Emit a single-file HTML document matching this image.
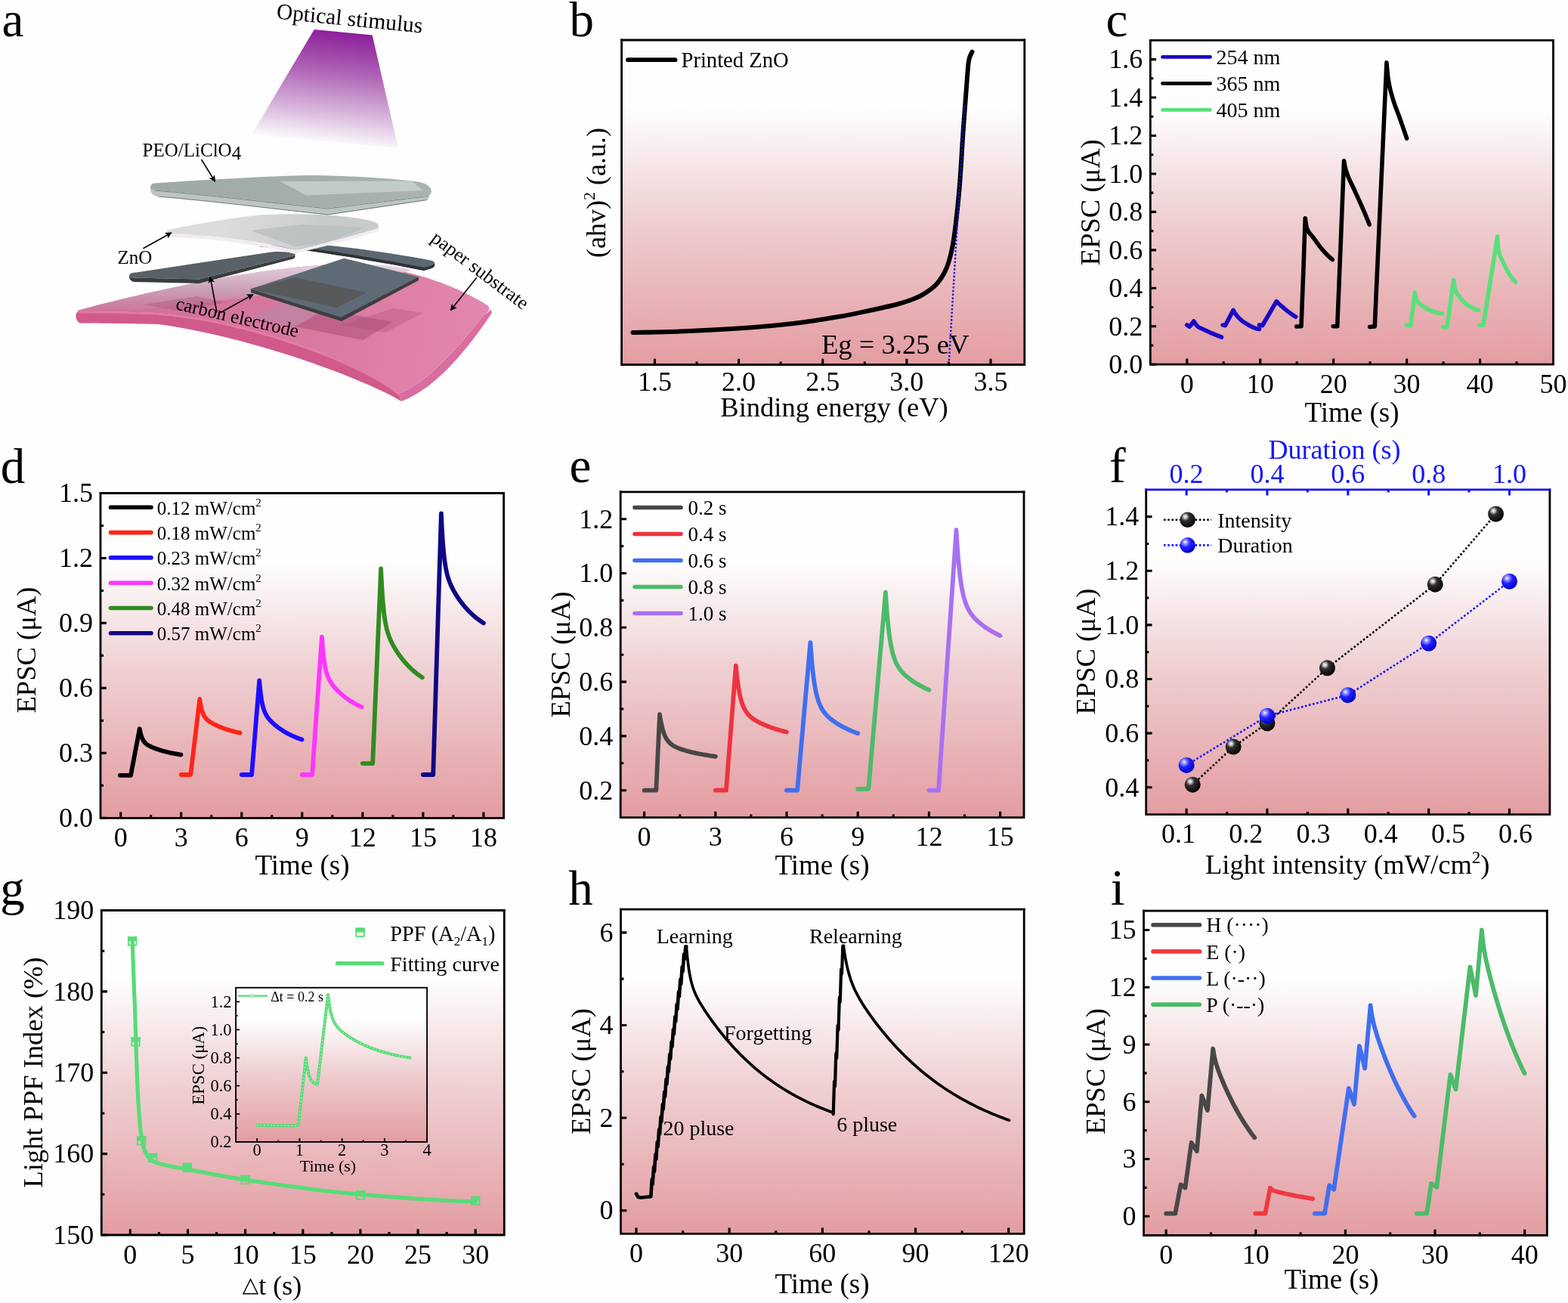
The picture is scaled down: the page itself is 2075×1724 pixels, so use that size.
<!DOCTYPE html><html><head><meta charset="utf-8"><style>html,body{margin:0;padding:0;background:#fff;}svg{display:block;}</style></head><body><svg xmlns="http://www.w3.org/2000/svg" width="2075" height="1724" viewBox="0 0 2075 1724" font-family='"Liberation Serif", "Times New Roman", serif'><defs><linearGradient id="g_b" x1="0" y1="0" x2="0" y2="1"><stop offset="0" stop-color="#fefefe"/><stop offset="0.21" stop-color="#fefefe"/><stop offset="0.55" stop-color="rgb(239,207,210)"/><stop offset="1" stop-color="rgb(227,157,161)"/></linearGradient><linearGradient id="g_c" x1="0" y1="0" x2="0" y2="1"><stop offset="0" stop-color="#fefefe"/><stop offset="0.21" stop-color="#fefefe"/><stop offset="0.55" stop-color="rgb(239,207,210)"/><stop offset="1" stop-color="rgb(227,157,161)"/></linearGradient><linearGradient id="g_d" x1="0" y1="0" x2="0" y2="1"><stop offset="0" stop-color="#fefefe"/><stop offset="0.21" stop-color="#fefefe"/><stop offset="0.55" stop-color="rgb(239,207,210)"/><stop offset="1" stop-color="rgb(227,157,161)"/></linearGradient><linearGradient id="g_e" x1="0" y1="0" x2="0" y2="1"><stop offset="0" stop-color="#fefefe"/><stop offset="0.21" stop-color="#fefefe"/><stop offset="0.55" stop-color="rgb(239,207,210)"/><stop offset="1" stop-color="rgb(227,157,161)"/></linearGradient><linearGradient id="g_f" x1="0" y1="0" x2="0" y2="1"><stop offset="0" stop-color="#fefefe"/><stop offset="0.21" stop-color="#fefefe"/><stop offset="0.55" stop-color="rgb(239,207,210)"/><stop offset="1" stop-color="rgb(227,157,161)"/></linearGradient><radialGradient id="sph_k" cx="0.35" cy="0.3" r="0.75"><stop offset="0" stop-color="#ffffff"/><stop offset="0.12" stop-color="#d0d0d0"/><stop offset="0.35" stop-color="#303030"/><stop offset="1" stop-color="#000"/></radialGradient><radialGradient id="sph_b" cx="0.35" cy="0.3" r="0.75"><stop offset="0" stop-color="#ffffff"/><stop offset="0.15" stop-color="#a0a0ff"/><stop offset="0.45" stop-color="#2020ff"/><stop offset="1" stop-color="#0000c0"/></radialGradient><linearGradient id="g_g" x1="0" y1="0" x2="0" y2="1"><stop offset="0" stop-color="#fefefe"/><stop offset="0.21" stop-color="#fefefe"/><stop offset="0.55" stop-color="rgb(239,207,210)"/><stop offset="1" stop-color="rgb(227,157,161)"/></linearGradient><linearGradient id="g_gi" x1="0" y1="0" x2="0" y2="1"><stop offset="0" stop-color="#fefefe"/><stop offset="0.21" stop-color="#fefefe"/><stop offset="0.55" stop-color="rgb(239,207,210)"/><stop offset="1" stop-color="rgb(227,157,161)"/></linearGradient><linearGradient id="g_h" x1="0" y1="0" x2="0" y2="1"><stop offset="0" stop-color="#fefefe"/><stop offset="0.21" stop-color="#fefefe"/><stop offset="0.55" stop-color="rgb(239,207,210)"/><stop offset="1" stop-color="rgb(227,157,161)"/></linearGradient><linearGradient id="g_i" x1="0" y1="0" x2="0" y2="1"><stop offset="0" stop-color="#fefefe"/><stop offset="0.21" stop-color="#fefefe"/><stop offset="0.55" stop-color="rgb(239,207,210)"/><stop offset="1" stop-color="rgb(227,157,161)"/></linearGradient><linearGradient id="beam" gradientUnits="userSpaceOnUse" x1="455" y1="42" x2="438" y2="192"><stop offset="0" stop-color="#8c1f9b"/><stop offset="0.35" stop-color="#ad62b5"/><stop offset="0.7" stop-color="#d7b4da"/><stop offset="1" stop-color="#fefefe"/></linearGradient><linearGradient id="paper" gradientUnits="userSpaceOnUse" x1="150" y1="380" x2="640" y2="470"><stop offset="0" stop-color="#cf7099"/><stop offset="0.5" stop-color="#d8789f"/><stop offset="1" stop-color="#e387b0"/></linearGradient><linearGradient id="paperfar" gradientUnits="userSpaceOnUse" x1="0" y1="348" x2="0" y2="420"><stop offset="0" stop-color="#e8d8e2"/><stop offset="0.5" stop-color="#c9a2b8"/><stop offset="1" stop-color="#c88aa8" stop-opacity="0"/></linearGradient><linearGradient id="rim" gradientUnits="userSpaceOnUse" x1="0" y1="412" x2="0" y2="430"><stop offset="0" stop-color="#df6c98"/><stop offset="0.5" stop-color="#cf5b8a"/><stop offset="1" stop-color="#c2527f"/></linearGradient><linearGradient id="zno" gradientUnits="userSpaceOnUse" x1="300" y1="285" x2="420" y2="330"><stop offset="0" stop-color="#dcdcde"/><stop offset="1" stop-color="#c8cbcc"/></linearGradient><linearGradient id="peo" gradientUnits="userSpaceOnUse" x1="200" y1="235" x2="570" y2="280"><stop offset="0" stop-color="#9ea9a7"/><stop offset="1" stop-color="#a8b3b2"/></linearGradient><marker id="arr" viewBox="0 0 10 10" refX="9" refY="5" markerWidth="5.5" markerHeight="5.5" orient="auto-start-reverse"><path d="M0 0 L10 5 L0 10 L2.5 5 Z" fill="#000"/></marker></defs><rect width="100%" height="100%" fill="#fefefe"/><rect x="822.6" y="53" width="533.2" height="429.5" fill="url(#g_b)"/>
<path d="M837.6 440 C848 439.75 876.77 439.42 900 438.5 C923.23 437.58 952 436.25 977 434.5 C1002 432.75 1027.83 430.58 1050 428 C1072.17 425.42 1093.33 421.83 1110 419 C1126.67 416.17 1137.38 413.67 1150 411 C1162.62 408.33 1176.53 405.33 1185.7 403 C1194.87 400.67 1199.05 399.23 1205 397 C1210.95 394.77 1215.68 393.1 1221.4 389.6 C1227.12 386.1 1234.2 381.6 1239.3 376 C1244.4 370.4 1248.6 363.67 1252 356 C1255.4 348.33 1257.57 340 1259.7 330 C1261.83 320 1263.08 310.33 1264.8 296 C1266.52 281.67 1268.3 265.4 1270 244 C1271.7 222.6 1273.52 188.85 1275 167.6 C1276.48 146.35 1277.83 130.27 1278.9 116.5 C1279.97 102.73 1280.63 91.92 1281.4 85 C1282.17 78.08 1282.65 77.73 1283.5 75 C1284.35 72.27 1286 69.67 1286.5 68.6" fill="none" stroke="#000" stroke-width="6" stroke-linecap="round" stroke-linejoin="round"/>
<line x1="1276.3" y1="139.5" x2="1255.6" y2="482" stroke="#1010ee" stroke-width="2.4" stroke-dasharray="2.4 2.4"/>
<path d="M866.42 482.5 V474.7 M977.56 482.5 V474.7 M1088.7 482.5 V474.7 M1199.84 482.5 V474.7 M1310.98 482.5 V474.7 M921.99 482.5 V478.5 M1033.13 482.5 V478.5 M1144.27 482.5 V478.5 M1255.41 482.5 V478.5" stroke="#000" stroke-width="3.1" fill="none"/>
<path d="M822.6 53 L822.6 482.5 L1355.8 482.5 L1355.8 53" fill="none" stroke="#000" stroke-width="2.8" stroke-linejoin="miter" stroke-linecap="square"/>
<line x1="822.6" y1="53" x2="1355.8" y2="53" stroke="#000" stroke-width="2.8" stroke-linecap="square"/>
<text x="866.42" y="517.3" font-size="36" text-anchor="middle" fill="#000" >1.5</text>
<text x="977.56" y="517.3" font-size="36" text-anchor="middle" fill="#000" >2.0</text>
<text x="1088.7" y="517.3" font-size="36" text-anchor="middle" fill="#000" >2.5</text>
<text x="1199.84" y="517.3" font-size="36" text-anchor="middle" fill="#000" >3.0</text>
<text x="1310.98" y="517.3" font-size="36" text-anchor="middle" fill="#000" >3.5</text>
<text x="1104" y="550.5" font-size="36.5" text-anchor="middle" fill="#000" >Binding energy (eV)</text>
<text x="0" y="0" font-size="36" text-anchor="middle" transform="translate(801 255) rotate(-90)">(ahv)<tspan font-size="22" dy="-14">2</tspan><tspan dy="14"> (a.u.)</tspan></text>
<line x1="831" y1="79.2" x2="893.5" y2="79.2" stroke="#000" stroke-width="5.8" stroke-linecap="round"/>
<text x="901.5" y="89" font-size="28.6" text-anchor="start" fill="#000" >Printed ZnO</text>
<text x="1087" y="467.5" font-size="36.6" text-anchor="start" fill="#000" >Eg = 3.25 eV</text>
<text x="753.6" y="48.2" font-size="65" text-anchor="start" fill="#000" >b</text>
<rect x="1522.3" y="53.3" width="533.2" height="428.9" fill="url(#g_c)"/>
<path d="M1570.77 429.98 L1574.07 432.25 L1575.62 430.49 L1579.79 424.94 L1583.08 429.98 L1586.28 433.01 L1601.02 439.82 L1616.53 446.13" fill="none" stroke="#1a08c8" stroke-width="5.6" stroke-linejoin="round" stroke-linecap="round" />
<path d="M1618.18 429.98 L1621.38 430.74 L1632.04 410.31 L1632.18 410.56 L1632.43 411.02 L1632.75 411.62 L1633.13 412.32 L1633.56 413.1 L1634.04 413.92 L1634.56 414.76 L1635.12 415.57 L1635.72 416.34 L1636.34 417.11 L1637.01 417.91 L1637.7 418.71 L1638.42 419.52 L1639.17 420.32 L1639.95 421.12 L1640.75 421.92 L1641.58 422.69 L1642.43 423.46 L1643.31 424.2 L1644.21 424.91 L1645.13 425.6 L1646.08 426.25 L1647.05 426.87 L1648.04 427.49 L1649.05 428.12 L1650.08 428.74 L1651.13 429.37 L1652.2 429.99 L1653.29 430.61 L1654.4 431.21 L1655.52 431.8 L1656.67 432.36 L1657.83 432.91 L1659.01 433.42 L1660.21 433.89 L1661.43 434.33 L1662.66 434.72 L1663.91 435.05 L1665.18 435.33 L1666.46 435.53" fill="none" stroke="#1a08c8" stroke-width="5.6" stroke-linejoin="round" stroke-linecap="round" />
<path d="M1666.46 429.98 L1670.53 430.74 L1689.24 398.71 L1689.34 398.81 L1689.52 399 L1689.76 399.24 L1690.04 399.53 L1690.36 399.86 L1690.72 400.22 L1691.1 400.61 L1691.51 401.02 L1691.95 401.44 L1692.42 401.87 L1692.9 402.31 L1693.41 402.77 L1693.95 403.25 L1694.5 403.74 L1695.07 404.25 L1695.67 404.77 L1696.28 405.31 L1696.91 405.86 L1697.56 406.42 L1698.22 406.99 L1698.9 407.57 L1699.6 408.16 L1700.31 408.76 L1701.04 409.37 L1701.79 409.98 L1702.55 410.6 L1703.33 411.22 L1704.12 411.84 L1704.92 412.47 L1705.74 413.1 L1706.57 413.72 L1707.41 414.35 L1708.27 414.97 L1709.14 415.59 L1710.03 416.2 L1710.93 416.81 L1711.84 417.41 L1712.76 418 L1713.69 418.57 L1714.64 419.14" fill="none" stroke="#1a08c8" stroke-width="5.6" stroke-linejoin="round" stroke-linecap="round" />
<path d="M1715.8 432 L1722.01 431.75 L1724.92 356.07 L1727.24 288.72 L1727.38 289.8 L1727.64 291.84 L1727.98 294.47 L1728.38 297.35 L1728.83 299.9 L1729.33 301.52 L1729.88 302.91 L1730.46 304.24 L1731.08 305.49 L1731.74 306.64 L1732.43 307.7 L1733.15 308.68 L1733.91 309.58 L1734.69 310.45 L1735.5 311.32 L1736.34 312.24 L1737.21 313.27 L1738.1 314.48 L1739.02 315.78 L1739.96 317.11 L1740.92 318.47 L1741.91 319.85 L1742.92 321.25 L1743.96 322.66 L1745.01 324.08 L1746.09 325.5 L1747.19 326.92 L1748.31 328.32 L1749.45 329.7 L1750.6 331.05 L1751.78 332.38 L1752.98 333.69 L1754.19 334.98 L1755.43 336.27 L1756.68 337.54 L1757.95 338.78 L1759.24 340 L1760.55 341.19 L1761.87 342.34 L1763.21 343.46" fill="none" stroke="#000" stroke-width="5.6" stroke-linejoin="round" stroke-linecap="round" />
<path d="M1764.28 431.75 L1769.7 431.75 L1774.36 318.24 L1778.53 212.8 L1778.66 213.5 L1778.9 214.8 L1779.22 216.49 L1779.59 218.45 L1780.01 220.55 L1780.48 222.61 L1780.99 224.44 L1781.54 226.25 L1782.12 228.07 L1782.73 229.89 L1783.38 231.7 L1784.05 233.48 L1784.76 235.24 L1785.49 236.97 L1786.25 238.68 L1787.04 240.37 L1787.85 242.07 L1788.68 243.77 L1789.54 245.51 L1790.42 247.31 L1791.32 249.2 L1792.25 251.2 L1793.19 253.35 L1794.16 255.53 L1795.15 257.72 L1796.16 259.93 L1797.18 262.16 L1798.23 264.42 L1799.29 266.73 L1800.38 269.09 L1801.48 271.51 L1802.6 274.02 L1803.73 276.62 L1804.89 279.31 L1806.06 282.08 L1807.25 284.93 L1808.45 287.85 L1809.68 290.84 L1810.91 293.91 L1812.17 297.05" fill="none" stroke="#000" stroke-width="5.6" stroke-linejoin="round" stroke-linecap="round" />
<path d="M1812.65 432.51 L1819.24 432 L1827.19 255.17 L1834.95 82.89 L1835.05 84.08 L1835.25 86.27 L1835.5 89.09 L1835.79 92.36 L1836.13 95.9 L1836.5 99.49 L1836.9 102.89 L1837.33 105.8 L1837.79 108.55 L1838.28 111.23 L1838.79 113.83 L1839.33 116.35 L1839.89 118.77 L1840.47 121.1 L1841.07 123.36 L1841.69 125.58 L1842.34 127.78 L1843 130.01 L1843.68 132.31 L1844.37 134.56 L1845.09 136.74 L1845.82 138.86 L1846.57 140.94 L1847.34 142.99 L1848.12 145.03 L1848.92 147.08 L1849.73 149.17 L1850.56 151.33 L1851.41 153.59 L1852.27 155.98 L1853.14 158.46 L1854.03 160.99 L1854.93 163.57 L1855.84 166.2 L1856.77 168.88 L1857.71 171.61 L1858.67 174.39 L1859.63 177.22 L1860.62 180.1 L1861.61 183.03" fill="none" stroke="#000" stroke-width="5.6" stroke-linejoin="round" stroke-linecap="round" />
<path d="M1861.22 429.98 L1866.75 430.74 L1872.37 387.1 L1872.51 387.87 L1872.77 389.32 L1873.11 391.2 L1873.51 393.24 L1873.97 395.04 L1874.47 396.19 L1875.02 397.2 L1875.6 398.17 L1876.23 399.1 L1876.89 399.96 L1877.58 400.76 L1878.31 401.5 L1879.07 402.18 L1879.86 402.81 L1880.67 403.42 L1881.52 404.02 L1882.39 404.64 L1883.29 405.3 L1884.21 405.94 L1885.15 406.57 L1886.13 407.19 L1887.12 407.79 L1888.14 408.37 L1889.18 408.93 L1890.24 409.47 L1891.32 409.98 L1892.42 410.47 L1893.55 410.93 L1894.69 411.36 L1895.86 411.78 L1897.04 412.2 L1898.24 412.61 L1899.47 413 L1900.71 413.39 L1901.97 413.75 L1903.24 414.09 L1904.54 414.4 L1905.85 414.67 L1907.18 414.91 L1908.53 415.1" fill="none" stroke="#58e07a" stroke-width="5.6" stroke-linejoin="round" stroke-linecap="round" />
<path d="M1909.4 432.76 L1914.93 432.76 L1923.75 370.45 L1923.88 371.69 L1924.12 374.03 L1924.43 376.98 L1924.79 379.91 L1925.2 381.87 L1925.66 383.28 L1926.16 384.63 L1926.69 385.9 L1927.26 387.07 L1927.86 388.12 L1928.49 389.08 L1929.15 389.96 L1929.84 390.8 L1930.56 391.63 L1931.3 392.51 L1932.07 393.5 L1932.86 394.51 L1933.67 395.51 L1934.51 396.51 L1935.37 397.49 L1936.25 398.46 L1937.16 399.41 L1938.08 400.33 L1939.03 401.21 L1939.99 402.04 L1940.97 402.83 L1941.98 403.55 L1943 404.22 L1944.04 404.87 L1945.1 405.51 L1946.17 406.15 L1947.27 406.77 L1948.38 407.37 L1949.51 407.95 L1950.65 408.48 L1951.81 408.97 L1952.99 409.41 L1954.18 409.78 L1955.39 410.09 L1956.62 410.31" fill="none" stroke="#58e07a" stroke-width="5.6" stroke-linejoin="round" stroke-linecap="round" />
<path d="M1957.49 429.98 L1963.01 429.98 L1981.63 312.94 L1981.72 314.79 L1981.9 318.37 L1982.12 322.86 L1982.39 326.87 L1982.69 328.93 L1983.02 330.74 L1983.39 332.5 L1983.78 334.18 L1984.19 335.76 L1984.63 337.21 L1985.09 338.53 L1985.58 339.73 L1986.08 340.83 L1986.61 341.86 L1987.15 342.85 L1987.71 343.86 L1988.29 344.96 L1988.89 346.23 L1989.5 347.66 L1990.13 349.1 L1990.77 350.53 L1991.43 351.95 L1992.11 353.37 L1992.8 354.76 L1993.51 356.13 L1994.23 357.47 L1994.96 358.78 L1995.71 360.06 L1996.47 361.29 L1997.24 362.5 L1998.03 363.7 L1998.83 364.89 L1999.64 366.06 L2000.47 367.21 L2001.31 368.33 L2002.16 369.41 L2003.02 370.45 L2003.89 371.43 L2004.77 372.36 L2005.67 373.23" fill="none" stroke="#58e07a" stroke-width="5.6" stroke-linejoin="round" stroke-linecap="round" />
<path d="M1570.77 482.2 V474.4 M1667.72 482.2 V474.4 M1764.66 482.2 V474.4 M1861.61 482.2 V474.4 M1958.55 482.2 V474.4 M1619.25 482.2 V478.2 M1716.19 482.2 V478.2 M1813.14 482.2 V478.2 M1910.08 482.2 V478.2 M2007.03 482.2 V478.2 M1522.3 482.2 H1530.1 M1522.3 431.75 H1530.1 M1522.3 381.3 H1530.1 M1522.3 330.85 H1530.1 M1522.3 280.4 H1530.1 M1522.3 229.95 H1530.1 M1522.3 179.5 H1530.1 M1522.3 129.05 H1530.1 M1522.3 78.6 H1530.1 M1522.3 456.97 H1526.3 M1522.3 406.52 H1526.3 M1522.3 356.07 H1526.3 M1522.3 305.62 H1526.3 M1522.3 255.17 H1526.3 M1522.3 204.72 H1526.3 M1522.3 154.27 H1526.3 M1522.3 103.82 H1526.3" stroke="#000" stroke-width="3.1" fill="none"/>
<path d="M1522.3 53.3 L1522.3 482.2 L2055.5 482.2 L2055.5 53.3" fill="none" stroke="#000" stroke-width="2.8" stroke-linejoin="miter" stroke-linecap="square"/>
<line x1="1522.3" y1="53.3" x2="2055.5" y2="53.3" stroke="#000" stroke-width="2.8" stroke-linecap="square"/>
<text x="1570.77" y="519.7" font-size="36" text-anchor="middle" fill="#000" >0</text>
<text x="1667.72" y="519.7" font-size="36" text-anchor="middle" fill="#000" >10</text>
<text x="1764.66" y="519.7" font-size="36" text-anchor="middle" fill="#000" >20</text>
<text x="1861.61" y="519.7" font-size="36" text-anchor="middle" fill="#000" >30</text>
<text x="1958.55" y="519.7" font-size="36" text-anchor="middle" fill="#000" >40</text>
<text x="2055.5" y="519.7" font-size="36" text-anchor="middle" fill="#000" >50</text>
<text x="1512.3" y="494" font-size="36" text-anchor="end" fill="#000" >0.0</text>
<text x="1512.3" y="443.55" font-size="36" text-anchor="end" fill="#000" >0.2</text>
<text x="1512.3" y="393.1" font-size="36" text-anchor="end" fill="#000" >0.4</text>
<text x="1512.3" y="342.65" font-size="36" text-anchor="end" fill="#000" >0.6</text>
<text x="1512.3" y="292.2" font-size="36" text-anchor="end" fill="#000" >0.8</text>
<text x="1512.3" y="241.75" font-size="36" text-anchor="end" fill="#000" >1.0</text>
<text x="1512.3" y="191.3" font-size="36" text-anchor="end" fill="#000" >1.2</text>
<text x="1512.3" y="140.85" font-size="36" text-anchor="end" fill="#000" >1.4</text>
<text x="1512.3" y="90.4" font-size="36" text-anchor="end" fill="#000" >1.6</text>
<text x="1789" y="557.8" font-size="37" text-anchor="middle" fill="#000" >Time (s)</text>
<text x="0" y="0" font-size="36.6" text-anchor="middle" transform="translate(1455 267.7) rotate(-90)">EPSC (μA)</text>
<line x1="1538.5" y1="75.4" x2="1601.5" y2="75.4" stroke="#1a08c8" stroke-width="4.8" stroke-linecap="round"/>
<text x="1609.4" y="85" font-size="28" text-anchor="start" fill="#000" >254 nm</text>
<line x1="1538.5" y1="110.4" x2="1601.5" y2="110.4" stroke="#000" stroke-width="4.8" stroke-linecap="round"/>
<text x="1609.4" y="120" font-size="28" text-anchor="start" fill="#000" >365 nm</text>
<line x1="1538.5" y1="145.4" x2="1601.5" y2="145.4" stroke="#58e07a" stroke-width="4.8" stroke-linecap="round"/>
<text x="1609.4" y="155" font-size="28" text-anchor="start" fill="#000" >405 nm</text>
<text x="1463.5" y="48.2" font-size="65" text-anchor="start" fill="#000" >c</text>
<rect x="133" y="652.5" width="533.6" height="429.8" fill="url(#g_d)"/>
<path d="M158.88 1025.85 L173.02 1025.85 L174.19 1019.69 L175.37 1013.53 L176.54 1007.37 L177.72 1001.21 L178.89 995.05 L180.06 988.89 L181.24 982.73 L182.41 976.57 L183.59 970.41 L184.76 964.25 L184.84 964.69 L185 965.55 L185.21 966.67 L185.48 967.94 L185.79 969.32 L186.13 970.74 L186.52 972.16 L186.94 973.55 L187.39 974.89 L187.87 976.16 L188.38 977.36 L188.92 978.47 L189.49 979.5 L190.09 980.45 L190.71 981.32 L191.36 982.12 L192.03 982.86 L192.73 983.53 L193.45 984.16 L194.19 984.75 L194.96 985.29 L195.74 985.81 L196.55 986.29 L197.38 986.76 L198.24 987.21 L199.11 987.64 L200 988.06 L200.92 988.47 L201.85 988.87 L202.8 989.27 L203.77 989.65 L204.76 990.04 L205.77 990.41 L206.8 990.78 L207.85 991.15 L208.91 991.51 L210 991.87 L211.1 992.22 L212.21 992.57 L213.35 992.92 L214.5 993.26 L215.67 993.59 L216.85 993.92 L218.06 994.24 L219.28 994.56 L220.51 994.87 L221.76 995.18 L223.03 995.48 L224.32 995.78 L225.61 996.07 L226.93 996.35 L228.26 996.63 L229.61 996.9 L230.97 997.17 L232.35 997.43 L233.74 997.68 L235.14 997.93 L236.57 998.17 L238 998.4 L239.45 998.63" fill="none" stroke="#000000" stroke-width="5.8" stroke-linejoin="round" stroke-linecap="round" />
<path d="M239.72 1024.99 L252.26 1024.99 L253.46 1014.99 L254.66 1004.99 L255.86 994.99 L257.06 984.99 L258.26 974.99 L259.46 964.99 L260.66 954.99 L261.86 944.99 L263.06 934.99 L264.27 924.99 L264.34 925.55 L264.5 926.66 L264.71 928.08 L264.97 929.72 L265.27 931.48 L265.61 933.31 L265.98 935.14 L266.39 936.94 L266.83 938.67 L267.3 940.33 L267.8 941.89 L268.33 943.34 L268.88 944.68 L269.47 945.93 L270.07 947.07 L270.7 948.12 L271.36 949.09 L272.04 949.98 L272.74 950.81 L273.47 951.58 L274.21 952.29 L274.98 952.97 L275.77 953.61 L276.58 954.22 L277.41 954.8 L278.27 955.37 L279.14 955.92 L280.03 956.45 L280.94 956.97 L281.87 957.48 L282.82 957.98 L283.78 958.48 L284.77 958.97 L285.77 959.45 L286.79 959.93 L287.83 960.4 L288.89 960.86 L289.96 961.32 L291.05 961.77 L292.16 962.22 L293.28 962.66 L294.42 963.09 L295.58 963.52 L296.75 963.94 L297.94 964.36 L299.15 964.76 L300.37 965.16 L301.6 965.56 L302.86 965.94 L304.12 966.32 L305.41 966.69 L306.71 967.06 L308.02 967.41 L309.35 967.76 L310.69 968.1 L312.05 968.44 L313.42 968.76 L314.81 969.08 L316.21 969.39 L317.63 969.69" fill="none" stroke="#ff2418" stroke-width="5.8" stroke-linejoin="round" stroke-linecap="round" />
<path d="M319.76 1024.99 L333.1 1024.99 L334.11 1012.53 L335.13 1000.06 L336.14 987.6 L337.16 975.14 L338.17 962.67 L339.18 950.21 L340.2 937.74 L341.21 925.28 L342.22 912.82 L343.24 900.35 L343.32 901.37 L343.48 903.38 L343.7 905.96 L343.98 908.92 L344.29 912.09 L344.65 915.36 L345.05 918.62 L345.48 921.81 L345.94 924.87 L346.44 927.77 L346.97 930.49 L347.53 933.01 L348.11 935.33 L348.72 937.47 L349.36 939.43 L350.03 941.22 L350.72 942.87 L351.44 944.4 L352.18 945.8 L352.95 947.11 L353.73 948.34 L354.54 949.5 L355.38 950.6 L356.23 951.65 L357.11 952.67 L358.01 953.65 L358.93 954.6 L359.87 955.54 L360.83 956.45 L361.81 957.35 L362.81 958.23 L363.83 959.1 L364.87 959.96 L365.93 960.81 L367 961.65 L368.1 962.47 L369.21 963.29 L370.35 964.1 L371.5 964.89 L372.66 965.67 L373.85 966.44 L375.05 967.2 L376.27 967.95 L377.51 968.69 L378.77 969.41 L380.04 970.12 L381.33 970.81 L382.63 971.49 L383.95 972.16 L385.29 972.81 L386.64 973.45 L388.01 974.08 L389.4 974.69 L390.8 975.29 L392.22 975.87 L393.65 976.44 L395.1 977 L396.56 977.54 L398.04 978.06 L399.53 978.57" fill="none" stroke="#1f0cff" stroke-width="5.8" stroke-linejoin="round" stroke-linecap="round" />
<path d="M399.8 1024.99 L413.14 1024.99 L414.42 1006.77 L415.7 988.55 L416.98 970.32 L418.26 952.1 L419.54 933.88 L420.82 915.65 L422.1 897.43 L423.39 879.21 L424.67 860.98 L425.95 842.76 L426.02 843.91 L426.18 846.19 L426.38 849.13 L426.64 852.51 L426.94 856.16 L427.27 859.93 L427.64 863.72 L428.05 867.44 L428.49 871.05 L428.95 874.48 L429.45 877.71 L429.97 880.74 L430.52 883.54 L431.09 886.13 L431.69 888.51 L432.32 890.71 L432.97 892.73 L433.64 894.59 L434.34 896.31 L435.06 897.91 L435.79 899.41 L436.56 900.82 L437.34 902.15 L438.14 903.42 L438.96 904.64 L439.81 905.82 L440.67 906.95 L441.55 908.06 L442.45 909.15 L443.37 910.21 L444.31 911.25 L445.27 912.28 L446.24 913.29 L447.24 914.29 L448.25 915.28 L449.28 916.25 L450.32 917.22 L451.38 918.17 L452.46 919.11 L453.56 920.03 L454.67 920.95 L455.8 921.85 L456.95 922.74 L458.11 923.62 L459.29 924.48 L460.48 925.32 L461.69 926.16 L462.91 926.98 L464.15 927.78 L465.41 928.57 L466.68 929.34 L467.96 930.1 L469.26 930.84 L470.58 931.57 L471.91 932.28 L473.25 932.97 L474.61 933.65 L475.98 934.32 L477.37 934.96 L478.77 935.59" fill="none" stroke="#ff35ff" stroke-width="5.8" stroke-linejoin="round" stroke-linecap="round" />
<path d="M479.84 1010.09 L493.18 1010.09 L494.27 984.33 L495.37 958.57 L496.46 932.82 L497.56 907.06 L498.65 881.3 L499.74 855.54 L500.84 829.78 L501.93 804.02 L503.02 778.26 L504.12 752.5 L504.2 754.34 L504.36 757.95 L504.57 762.61 L504.84 767.96 L505.15 773.71 L505.49 779.64 L505.88 785.58 L506.3 791.41 L506.75 797.02 L507.23 802.34 L507.74 807.34 L508.28 812 L508.85 816.31 L509.45 820.28 L510.07 823.92 L510.72 827.27 L511.39 830.35 L512.09 833.18 L512.81 835.81 L513.55 838.25 L514.32 840.53 L515.1 842.69 L515.91 844.73 L516.74 846.68 L517.6 848.55 L518.47 850.36 L519.36 852.12 L520.28 853.83 L521.21 855.51 L522.16 857.16 L523.13 858.78 L524.12 860.38 L525.13 861.95 L526.16 863.51 L527.21 865.04 L528.27 866.56 L529.35 868.06 L530.45 869.54 L531.57 870.99 L532.71 872.43 L533.86 873.85 L535.03 875.25 L536.21 876.62 L537.42 877.98 L538.64 879.31 L539.87 880.62 L541.12 881.9 L542.39 883.16 L543.67 884.4 L544.97 885.61 L546.29 886.8 L547.62 887.96 L548.97 889.09 L550.33 890.2 L551.7 891.29 L553.1 892.35 L554.5 893.39 L555.93 894.4 L557.36 895.38 L558.81 896.34" fill="none" stroke="#2f8c1f" stroke-width="5.8" stroke-linejoin="round" stroke-linecap="round" />
<path d="M559.88 1024.99 L573.22 1024.99 L574.29 990.44 L575.35 955.88 L576.42 921.33 L577.49 886.77 L578.56 852.21 L579.62 817.66 L580.69 783.1 L581.76 748.55 L582.82 713.99 L583.89 679.43 L583.97 681.32 L584.13 685.02 L584.36 689.8 L584.63 695.27 L584.94 701.13 L585.3 707.17 L585.69 713.21 L586.12 719.12 L586.58 724.79 L587.08 730.16 L587.6 735.19 L588.16 739.87 L588.74 744.18 L589.35 748.15 L589.99 751.79 L590.65 755.13 L591.34 758.19 L592.05 761.02 L592.79 763.63 L593.55 766.07 L594.34 768.35 L595.14 770.5 L595.97 772.54 L596.83 774.49 L597.7 776.38 L598.59 778.2 L599.51 779.97 L600.44 781.69 L601.4 783.39 L602.37 785.05 L603.37 786.69 L604.38 788.3 L605.42 789.89 L606.47 791.46 L607.54 793.02 L608.63 794.55 L609.74 796.06 L610.87 797.55 L612.02 799.02 L613.18 800.48 L614.36 801.91 L615.56 803.31 L616.77 804.7 L618 806.06 L619.25 807.4 L620.52 808.71 L621.8 810 L623.1 811.26 L624.41 812.5 L625.74 813.72 L627.09 814.91 L628.45 816.07 L629.83 817.2 L631.23 818.31 L632.64 819.4 L634.06 820.45 L635.51 821.48 L636.96 822.49 L638.43 823.47 L639.92 824.42" fill="none" stroke="#0f0784" stroke-width="5.8" stroke-linejoin="round" stroke-linecap="round" />
<path d="M159.68 1082.3 V1074.5 M239.72 1082.3 V1074.5 M319.76 1082.3 V1074.5 M399.8 1082.3 V1074.5 M479.84 1082.3 V1074.5 M559.88 1082.3 V1074.5 M639.92 1082.3 V1074.5 M199.7 1082.3 V1078.3 M279.74 1082.3 V1078.3 M359.78 1082.3 V1078.3 M439.82 1082.3 V1078.3 M519.86 1082.3 V1078.3 M599.9 1082.3 V1078.3 M133 1082.3 H140.8 M133 996.34 H140.8 M133 910.38 H140.8 M133 824.42 H140.8 M133 738.46 H140.8 M133 652.5 H140.8 M133 1039.32 H137 M133 953.36 H137 M133 867.4 H137 M133 781.44 H137 M133 695.48 H137" stroke="#000" stroke-width="3.1" fill="none"/>
<path d="M133 652.5 L133 1082.3 L666.6 1082.3 L666.6 652.5" fill="none" stroke="#000" stroke-width="2.8" stroke-linejoin="miter" stroke-linecap="square"/>
<line x1="133" y1="652.5" x2="666.6" y2="652.5" stroke="#000" stroke-width="2.8" stroke-linecap="square"/>
<text x="159.68" y="1119.8" font-size="36" text-anchor="middle" fill="#000" >0</text>
<text x="239.72" y="1119.8" font-size="36" text-anchor="middle" fill="#000" >3</text>
<text x="319.76" y="1119.8" font-size="36" text-anchor="middle" fill="#000" >6</text>
<text x="399.8" y="1119.8" font-size="36" text-anchor="middle" fill="#000" >9</text>
<text x="479.84" y="1119.8" font-size="36" text-anchor="middle" fill="#000" >12</text>
<text x="559.88" y="1119.8" font-size="36" text-anchor="middle" fill="#000" >15</text>
<text x="639.92" y="1119.8" font-size="36" text-anchor="middle" fill="#000" >18</text>
<text x="123" y="1094.1" font-size="36" text-anchor="end" fill="#000" >0.0</text>
<text x="123" y="1008.14" font-size="36" text-anchor="end" fill="#000" >0.3</text>
<text x="123" y="922.18" font-size="36" text-anchor="end" fill="#000" >0.6</text>
<text x="123" y="836.22" font-size="36" text-anchor="end" fill="#000" >0.9</text>
<text x="123" y="750.26" font-size="36" text-anchor="end" fill="#000" >1.2</text>
<text x="123" y="664.3" font-size="36" text-anchor="end" fill="#000" >1.5</text>
<text x="400" y="1157" font-size="37" text-anchor="middle" fill="#000" >Time (s)</text>
<text x="0" y="0" font-size="36.6" text-anchor="middle" transform="translate(47 860) rotate(-90)">EPSC (μA)</text>
<line x1="146.5" y1="671.3" x2="200" y2="671.3" stroke="#000000" stroke-width="5.6" stroke-linecap="round"/>
<text x="207.8" y="680.6" font-size="25">0.12 mW/cm<tspan font-size="15" dy="-11">2</tspan></text>
<line x1="146.5" y1="704.6" x2="200" y2="704.6" stroke="#ff2418" stroke-width="5.6" stroke-linecap="round"/>
<text x="207.8" y="713.9" font-size="25">0.18 mW/cm<tspan font-size="15" dy="-11">2</tspan></text>
<line x1="146.5" y1="737.9" x2="200" y2="737.9" stroke="#1f0cff" stroke-width="5.6" stroke-linecap="round"/>
<text x="207.8" y="747.2" font-size="25">0.23 mW/cm<tspan font-size="15" dy="-11">2</tspan></text>
<line x1="146.5" y1="771.2" x2="200" y2="771.2" stroke="#ff35ff" stroke-width="5.6" stroke-linecap="round"/>
<text x="207.8" y="780.5" font-size="25">0.32 mW/cm<tspan font-size="15" dy="-11">2</tspan></text>
<line x1="146.5" y1="804.5" x2="200" y2="804.5" stroke="#2f8c1f" stroke-width="5.6" stroke-linecap="round"/>
<text x="207.8" y="813.8" font-size="25">0.48 mW/cm<tspan font-size="15" dy="-11">2</tspan></text>
<line x1="146.5" y1="837.8" x2="200" y2="837.8" stroke="#0f0784" stroke-width="5.6" stroke-linecap="round"/>
<text x="207.8" y="847.1" font-size="25">0.57 mW/cm<tspan font-size="15" dy="-11">2</tspan></text>
<text x="0.7" y="638.6" font-size="65" text-anchor="start" fill="#000" >d</text>
<rect x="821.2" y="650.8" width="533.8" height="430.8" fill="url(#g_e)"/>
<path d="M852.6 1045.7 L868.3 1045.7 L868.77 1035.65 L869.24 1025.6 L869.71 1015.54 L870.18 1005.49 L870.66 995.44 L871.13 985.39 L871.6 975.34 L872.07 965.28 L872.54 955.23 L873.01 945.18 L873.12 945.91 L873.33 947.34 L873.62 949.21 L873.98 951.38 L874.39 953.74 L874.86 956.21 L875.38 958.72 L875.95 961.21 L876.56 963.65 L877.21 966.01 L877.9 968.25 L878.63 970.36 L879.4 972.34 L880.2 974.17 L881.04 975.86 L881.91 977.42 L882.82 978.84 L883.76 980.15 L884.73 981.34 L885.73 982.42 L886.77 983.42 L887.83 984.33 L888.92 985.17 L890.04 985.95 L891.19 986.67 L892.37 987.35 L893.58 987.98 L894.81 988.58 L896.07 989.15 L897.35 989.69 L898.66 990.21 L900 990.71 L901.36 991.2 L902.75 991.67 L904.16 992.13 L905.6 992.58 L907.06 993.01 L908.54 993.44 L910.05 993.86 L911.58 994.27 L913.13 994.67 L914.71 995.06 L916.31 995.45 L917.93 995.82 L919.58 996.19 L921.25 996.56 L922.93 996.91 L924.64 997.26 L926.38 997.6 L928.13 997.93 L929.9 998.25 L931.7 998.57 L933.52 998.88 L935.35 999.18 L937.21 999.47 L939.09 999.76 L940.99 1000.04 L942.9 1000.31 L944.84 1000.57 L946.8 1000.82" fill="none" stroke="#474747" stroke-width="5.8" stroke-linejoin="round" stroke-linecap="round" />
<path d="M946.8 1045.7 L960.93 1045.7 L962.22 1029.19 L963.5 1012.67 L964.79 996.16 L966.08 979.64 L967.37 963.13 L968.65 946.62 L969.94 930.1 L971.23 913.59 L972.52 897.07 L973.8 880.56 L973.9 881.62 L974.1 883.73 L974.36 886.49 L974.69 889.7 L975.06 893.21 L975.49 896.91 L975.96 900.7 L976.48 904.5 L977.03 908.25 L977.63 911.9 L978.26 915.4 L978.92 918.73 L979.62 921.87 L980.35 924.81 L981.12 927.55 L981.91 930.09 L982.74 932.44 L983.59 934.59 L984.48 936.58 L985.39 938.4 L986.33 940.07 L987.3 941.61 L988.29 943.03 L989.31 944.34 L990.36 945.55 L991.43 946.68 L992.53 947.74 L993.65 948.73 L994.8 949.67 L995.97 950.56 L997.16 951.41 L998.38 952.23 L999.62 953.02 L1000.89 953.77 L1002.17 954.51 L1003.48 955.22 L1004.81 955.92 L1006.16 956.6 L1007.53 957.26 L1008.93 957.91 L1010.34 958.55 L1011.78 959.18 L1013.24 959.79 L1014.71 960.39 L1016.21 960.98 L1017.73 961.56 L1019.27 962.13 L1020.82 962.68 L1022.4 963.23 L1024 963.77 L1025.61 964.29 L1027.25 964.8 L1028.9 965.31 L1030.58 965.8 L1032.27 966.28 L1033.98 966.75 L1035.71 967.21 L1037.45 967.65 L1039.22 968.09 L1041 968.51" fill="none" stroke="#ee3340" stroke-width="5.8" stroke-linejoin="round" stroke-linecap="round" />
<path d="M1041 1045.7 L1055.13 1045.7 L1056.86 1026.13 L1058.58 1006.57 L1060.31 987 L1062.04 967.44 L1063.77 947.87 L1065.49 928.31 L1067.22 908.74 L1068.95 889.18 L1070.67 869.61 L1072.4 850.04 L1072.49 851.42 L1072.67 854.15 L1072.92 857.74 L1073.22 861.92 L1073.58 866.53 L1073.98 871.39 L1074.42 876.4 L1074.9 881.45 L1075.42 886.46 L1075.97 891.36 L1076.56 896.09 L1077.18 900.62 L1077.84 904.92 L1078.52 908.98 L1079.23 912.77 L1079.98 916.32 L1080.75 919.6 L1081.55 922.64 L1082.38 925.45 L1083.23 928.04 L1084.11 930.43 L1085.01 932.62 L1085.94 934.65 L1086.9 936.53 L1087.87 938.27 L1088.88 939.89 L1089.9 941.4 L1090.95 942.81 L1092.02 944.15 L1093.12 945.41 L1094.23 946.61 L1095.37 947.75 L1096.53 948.85 L1097.71 949.91 L1098.91 950.93 L1100.13 951.92 L1101.38 952.88 L1102.64 953.81 L1103.92 954.73 L1105.23 955.62 L1106.55 956.5 L1107.89 957.36 L1109.25 958.2 L1110.63 959.03 L1112.03 959.84 L1113.45 960.63 L1114.89 961.42 L1116.34 962.18 L1117.82 962.94 L1119.31 963.68 L1120.82 964.4 L1122.35 965.12 L1123.89 965.81 L1125.46 966.5 L1127.04 967.17 L1128.64 967.82 L1130.25 968.47 L1131.88 969.1 L1133.53 969.71 L1135.2 970.31" fill="none" stroke="#3f6ff0" stroke-width="5.8" stroke-linejoin="round" stroke-linecap="round" />
<path d="M1135.2 1043.9 L1149.33 1043.9 L1151.59 1017.88 L1153.85 991.85 L1156.11 965.82 L1158.37 939.79 L1160.63 913.77 L1162.89 887.74 L1165.16 861.71 L1167.42 835.68 L1169.68 809.66 L1171.94 783.63 L1172.02 785.01 L1172.19 787.75 L1172.41 791.35 L1172.69 795.58 L1173.02 800.25 L1173.38 805.21 L1173.79 810.35 L1174.23 815.57 L1174.7 820.77 L1175.21 825.9 L1175.74 830.9 L1176.31 835.71 L1176.91 840.32 L1177.54 844.7 L1178.19 848.84 L1178.87 852.72 L1179.58 856.35 L1180.31 859.74 L1181.07 862.88 L1181.85 865.79 L1182.65 868.49 L1183.48 870.99 L1184.33 873.31 L1185.2 875.45 L1186.1 877.44 L1187.01 879.29 L1187.95 881.01 L1188.91 882.63 L1189.89 884.14 L1190.89 885.57 L1191.91 886.92 L1192.96 888.2 L1194.02 889.43 L1195.1 890.6 L1196.2 891.73 L1197.31 892.82 L1198.45 893.87 L1199.61 894.9 L1200.78 895.89 L1201.97 896.86 L1203.18 897.81 L1204.41 898.74 L1205.66 899.65 L1206.92 900.55 L1208.2 901.42 L1209.5 902.29 L1210.82 903.13 L1212.15 903.96 L1213.5 904.78 L1214.86 905.58 L1216.24 906.37 L1217.64 907.15 L1219.06 907.91 L1220.49 908.66 L1221.93 909.4 L1223.39 910.12 L1224.87 910.83 L1226.37 911.52 L1227.88 912.2 L1229.4 912.87" fill="none" stroke="#4cbb6a" stroke-width="5.8" stroke-linejoin="round" stroke-linecap="round" />
<path d="M1229.4 1045.7 L1241.96 1045.7 L1244.32 1011.24 L1246.67 976.77 L1249.03 942.31 L1251.38 907.84 L1253.74 873.38 L1256.09 838.92 L1258.45 804.45 L1260.8 769.99 L1263.15 735.52 L1265.51 701.06 L1265.59 702.57 L1265.76 705.56 L1265.99 709.5 L1266.27 714.11 L1266.6 719.2 L1266.97 724.62 L1267.38 730.22 L1267.82 735.9 L1268.3 741.56 L1268.81 747.13 L1269.36 752.56 L1269.93 757.78 L1270.54 762.78 L1271.17 767.52 L1271.83 772 L1272.52 776.19 L1273.23 780.12 L1273.97 783.77 L1274.74 787.16 L1275.53 790.3 L1276.34 793.21 L1277.18 795.89 L1278.04 798.38 L1278.92 800.69 L1279.82 802.82 L1280.75 804.81 L1281.7 806.67 L1282.67 808.4 L1283.66 810.03 L1284.67 811.57 L1285.7 813.02 L1286.76 814.41 L1287.83 815.73 L1288.92 816.99 L1290.03 818.21 L1291.16 819.39 L1292.31 820.52 L1293.48 821.63 L1294.67 822.71 L1295.87 823.76 L1297.1 824.78 L1298.34 825.79 L1299.6 826.78 L1300.88 827.74 L1302.17 828.69 L1303.48 829.62 L1304.81 830.54 L1306.16 831.44 L1307.52 832.33 L1308.9 833.2 L1310.3 834.05 L1311.71 834.89 L1313.14 835.72 L1314.59 836.52 L1316.05 837.32 L1317.53 838.1 L1319.02 838.86 L1320.53 839.61 L1322.06 840.35 L1323.6 841.07" fill="none" stroke="#a870f0" stroke-width="5.8" stroke-linejoin="round" stroke-linecap="round" />
<path d="M852.6 1081.6 V1073.8 M946.8 1081.6 V1073.8 M1041 1081.6 V1073.8 M1135.2 1081.6 V1073.8 M1229.4 1081.6 V1073.8 M1323.6 1081.6 V1073.8 M899.7 1081.6 V1077.6 M993.9 1081.6 V1077.6 M1088.1 1081.6 V1077.6 M1182.3 1081.6 V1077.6 M1276.5 1081.6 V1077.6 M821.2 1045.7 H829 M821.2 973.9 H829 M821.2 902.1 H829 M821.2 830.3 H829 M821.2 758.5 H829 M821.2 686.7 H829 M821.2 1009.8 H825.2 M821.2 938 H825.2 M821.2 866.2 H825.2 M821.2 794.4 H825.2 M821.2 722.6 H825.2" stroke="#000" stroke-width="3.1" fill="none"/>
<path d="M821.2 650.8 L821.2 1081.6 L1355 1081.6 L1355 650.8" fill="none" stroke="#000" stroke-width="2.8" stroke-linejoin="miter" stroke-linecap="square"/>
<line x1="821.2" y1="650.8" x2="1355" y2="650.8" stroke="#000" stroke-width="2.8" stroke-linecap="square"/>
<text x="852.6" y="1119.1" font-size="36" text-anchor="middle" fill="#000" >0</text>
<text x="946.8" y="1119.1" font-size="36" text-anchor="middle" fill="#000" >3</text>
<text x="1041" y="1119.1" font-size="36" text-anchor="middle" fill="#000" >6</text>
<text x="1135.2" y="1119.1" font-size="36" text-anchor="middle" fill="#000" >9</text>
<text x="1229.4" y="1119.1" font-size="36" text-anchor="middle" fill="#000" >12</text>
<text x="1323.6" y="1119.1" font-size="36" text-anchor="middle" fill="#000" >15</text>
<text x="811.2" y="1057.5" font-size="36" text-anchor="end" fill="#000" >0.2</text>
<text x="811.2" y="985.7" font-size="36" text-anchor="end" fill="#000" >0.4</text>
<text x="811.2" y="913.9" font-size="36" text-anchor="end" fill="#000" >0.6</text>
<text x="811.2" y="842.1" font-size="36" text-anchor="end" fill="#000" >0.8</text>
<text x="811.2" y="770.3" font-size="36" text-anchor="end" fill="#000" >1.0</text>
<text x="811.2" y="698.5" font-size="36" text-anchor="end" fill="#000" >1.2</text>
<text x="1088" y="1157" font-size="37" text-anchor="middle" fill="#000" >Time (s)</text>
<text x="0" y="0" font-size="36.6" text-anchor="middle" transform="translate(753.5 866) rotate(-90)">EPSC (μA)</text>
<line x1="840" y1="671.5" x2="901" y2="671.5" stroke="#474747" stroke-width="5.6" stroke-linecap="round"/>
<text x="910.6" y="681" font-size="27" text-anchor="start" fill="#000" >0.2 s</text>
<line x1="840" y1="706.5" x2="901" y2="706.5" stroke="#ee3340" stroke-width="5.6" stroke-linecap="round"/>
<text x="910.6" y="716" font-size="27" text-anchor="start" fill="#000" >0.4 s</text>
<line x1="840" y1="741.5" x2="901" y2="741.5" stroke="#3f6ff0" stroke-width="5.6" stroke-linecap="round"/>
<text x="910.6" y="751" font-size="27" text-anchor="start" fill="#000" >0.6 s</text>
<line x1="840" y1="776.5" x2="901" y2="776.5" stroke="#4cbb6a" stroke-width="5.6" stroke-linecap="round"/>
<text x="910.6" y="786" font-size="27" text-anchor="start" fill="#000" >0.8 s</text>
<line x1="840" y1="811.5" x2="901" y2="811.5" stroke="#a870f0" stroke-width="5.6" stroke-linecap="round"/>
<text x="910.6" y="821" font-size="27" text-anchor="start" fill="#000" >1.0 s</text>
<text x="753.5" y="638.4" font-size="65" text-anchor="start" fill="#000" >e</text>
<rect x="1516.7" y="647.8" width="534.2" height="429.8" fill="url(#g_f)"/>
<path d="M1578.24 1038.2 L1632.17 988.06 L1676.96 956.9 L1756.45 883.83 L1899.19 773.16 L1979.53 680.03" fill="none" stroke="#000" stroke-width="2.6" stroke-dasharray="2.6 2.6"/>
<path d="M1570.12 1012.41 L1676.96 947.23 L1783.8 919.65 L1890.64 851.24 L1997.48 769.22" fill="none" stroke="#1515ff" stroke-width="2.6" stroke-dasharray="2.6 2.6"/>
<circle cx="1578.24" cy="1038.2" r="10.5" fill="url(#sph_k)"/>
<circle cx="1632.17" cy="988.06" r="10.5" fill="url(#sph_k)"/>
<circle cx="1676.96" cy="956.9" r="10.5" fill="url(#sph_k)"/>
<circle cx="1756.45" cy="883.83" r="10.5" fill="url(#sph_k)"/>
<circle cx="1899.19" cy="773.16" r="10.5" fill="url(#sph_k)"/>
<circle cx="1979.53" cy="680.03" r="10.5" fill="url(#sph_k)"/>
<circle cx="1570.12" cy="1012.41" r="10.5" fill="url(#sph_b)"/>
<circle cx="1676.96" cy="947.23" r="10.5" fill="url(#sph_b)"/>
<circle cx="1783.8" cy="919.65" r="10.5" fill="url(#sph_b)"/>
<circle cx="1890.64" cy="851.24" r="10.5" fill="url(#sph_b)"/>
<circle cx="1997.48" cy="769.22" r="10.5" fill="url(#sph_b)"/>
<path d="M1570.12 1077.6 V1069.8 M1676.96 1077.6 V1069.8 M1783.8 1077.6 V1069.8 M1890.64 1077.6 V1069.8 M1997.48 1077.6 V1069.8 M1623.54 1077.6 V1074 M1730.38 1077.6 V1074 M1837.22 1077.6 V1074 M1944.06 1077.6 V1074 M1516.7 1041.78 H1524.5 M1516.7 970.15 H1524.5 M1516.7 898.52 H1524.5 M1516.7 826.88 H1524.5 M1516.7 755.25 H1524.5 M1516.7 683.62 H1524.5 M1516.7 1005.97 H1520.3 M1516.7 934.33 H1520.3 M1516.7 862.7 H1520.3 M1516.7 791.07 H1520.3 M1516.7 719.43 H1520.3" stroke="#000" stroke-width="3.1"/>
<path d="M1570.12 647.8 V655.6 M1676.96 647.8 V655.6 M1783.8 647.8 V655.6 M1890.64 647.8 V655.6 M1997.48 647.8 V655.6 M1623.54 647.8 V651.4 M1730.38 647.8 V651.4 M1837.22 647.8 V651.4 M1944.06 647.8 V651.4" stroke="#1515ff" stroke-width="3.1"/>
<path d="M1516.7 647.8 L1516.7 1077.6 L2050.9 1077.6 L2050.9 647.8" fill="none" stroke="#000" stroke-width="2.8" stroke-linejoin="miter" stroke-linecap="square"/>
<line x1="1516.7" y1="647.8" x2="2050.9" y2="647.8" stroke="#1515ff" stroke-width="2.8" stroke-linecap="square"/>
<text x="1559.6" y="1115.3" font-size="36" text-anchor="middle" fill="#000" >0.1</text>
<text x="1648.8" y="1115.3" font-size="36" text-anchor="middle" fill="#000" >0.2</text>
<text x="1738" y="1115.3" font-size="36" text-anchor="middle" fill="#000" >0.3</text>
<text x="1827.2" y="1115.3" font-size="36" text-anchor="middle" fill="#000" >0.4</text>
<text x="1916.4" y="1115.3" font-size="36" text-anchor="middle" fill="#000" >0.5</text>
<text x="2005.6" y="1115.3" font-size="36" text-anchor="middle" fill="#000" >0.6</text>
<text x="1507.2" y="1053.58" font-size="36" text-anchor="end" fill="#000" >0.4</text>
<text x="1507.2" y="981.95" font-size="36" text-anchor="end" fill="#000" >0.6</text>
<text x="1507.2" y="910.32" font-size="36" text-anchor="end" fill="#000" >0.8</text>
<text x="1507.2" y="838.68" font-size="36" text-anchor="end" fill="#000" >1.0</text>
<text x="1507.2" y="767.05" font-size="36" text-anchor="end" fill="#000" >1.2</text>
<text x="1507.2" y="695.42" font-size="36" text-anchor="end" fill="#000" >1.4</text>
<text x="1570.12" y="639" font-size="36" text-anchor="middle" fill="#1515ff" >0.2</text>
<text x="1676.96" y="639" font-size="36" text-anchor="middle" fill="#1515ff" >0.4</text>
<text x="1783.8" y="639" font-size="36" text-anchor="middle" fill="#1515ff" >0.6</text>
<text x="1890.64" y="639" font-size="36" text-anchor="middle" fill="#1515ff" >0.8</text>
<text x="1997.48" y="639" font-size="36" text-anchor="middle" fill="#1515ff" >1.0</text>
<text x="1766" y="607" font-size="36" text-anchor="middle" fill="#1515ff" >Duration (s)</text>
<text x="1783.3" y="1155.5" font-size="36.5" text-anchor="middle">Light intensity (mW/cm<tspan font-size="23" dy="-14">2</tspan><tspan dy="14">)</tspan></text>
<text x="0" y="0" font-size="36.6" text-anchor="middle" transform="translate(1448.5 862) rotate(-90)">EPSC (μA)</text>
<line x1="1540" y1="687.8" x2="1603" y2="687.8" stroke="#000" stroke-width="2.6" stroke-dasharray="2.6 2.6"/>
<circle cx="1571.6" cy="687.8" r="10.3" fill="url(#sph_k)"/>
<text x="1611.2" y="697.5" font-size="28" text-anchor="start" fill="#000" >Intensity</text>
<line x1="1540" y1="721.4" x2="1603" y2="721.4" stroke="#1515ff" stroke-width="2.6" stroke-dasharray="2.6 2.6"/>
<circle cx="1571.6" cy="721.4" r="10.3" fill="url(#sph_b)"/>
<text x="1611.2" y="731" font-size="28" text-anchor="start" fill="#000" >Duration</text>
<text x="1467.9" y="638.2" font-size="65" text-anchor="start" fill="#000" >f</text>
<rect x="134.3" y="1204.5" width="533" height="429.5" fill="url(#g_g)"/>
<path d="M175.11 1243.15 L175.42 1252.09 L175.72 1260.88 L176.03 1269.54 L176.33 1278.06 L176.64 1286.45 L176.94 1294.7 L177.24 1302.61 L177.55 1310.19 L177.85 1317.67 L178.16 1325.32 L178.46 1333.38 L178.77 1342.14 L179.07 1351.74 L179.38 1361.82 L179.68 1371.94 L179.99 1381.67 L180.29 1391.2 L180.59 1400.8 L180.9 1410.14 L181.2 1418.9 L181.51 1426.77 L181.81 1433.93 L182.12 1440.75 L182.42 1447.16 L182.73 1453.1 L183.03 1458.49 L183.34 1463.27 L183.64 1467.65 L183.95 1471.85 L184.25 1475.86 L184.55 1479.67 L184.86 1483.27 L185.16 1486.65 L185.47 1489.78 L185.77 1492.67 L186.08 1495.29 L186.38 1497.64 L186.69 1499.73 L186.99 1501.73 L187.3 1503.67 L187.6 1505.55 L187.9 1507.36 L188.21 1509.09 L188.51 1510.76 L188.82 1512.35 L189.12 1513.86 L189.43 1515.28 L189.73 1516.63 L190.04 1517.88 L190.34 1519.05 L190.65 1520.12 L190.95 1521.09 L191.25 1521.97 L191.56 1522.74 L191.86 1523.4 L192.17 1524.01 L192.47 1524.6 L192.78 1525.17 L193.08 1525.72 L193.39 1526.26 L193.69 1526.78 L194 1527.29 L194.3 1527.78 L194.61 1528.26 L194.91 1528.72 L195.21 1529.17 L195.52 1529.6 L195.82 1530.02 L196.13 1530.42 L196.43 1530.81 L196.74 1531.19 L197.04 1531.55 L197.35 1531.9 L197.65 1532.24 L197.96 1532.57 L198.26 1532.88 L198.56 1533.18 L198.87 1533.47 L199.17 1533.75 L199.48 1534.02 L199.78 1534.27 L200.09 1534.52 L200.39 1534.75 L200.7 1534.98 L201 1535.19 L201.31 1535.4 L201.61 1535.6 L201.91 1535.78 L202.22 1535.96 L202.52 1536.13 L202.83 1536.29 L206.64 1538.02 L210.44 1539.38 L214.25 1540.46 L218.06 1541.37 L221.86 1542.21 L225.67 1543.08 L229.48 1543.88 L233.29 1544.62 L237.09 1545.31 L240.9 1545.96 L244.71 1546.62 L248.51 1547.29 L252.32 1547.98 L256.13 1548.69 L259.94 1549.4 L263.74 1550.12 L267.55 1550.84 L271.36 1551.56 L275.16 1552.28 L278.97 1553 L282.78 1553.72 L286.59 1554.43 L290.39 1555.14 L294.2 1555.83 L298.01 1556.52 L301.81 1557.2 L305.62 1557.87 L309.43 1558.53 L313.24 1559.17 L317.04 1559.79 L320.85 1560.4 L324.66 1560.98 L328.46 1561.56 L332.27 1562.14 L336.08 1562.71 L339.89 1563.28 L343.69 1563.85 L347.5 1564.42 L351.31 1564.98 L355.11 1565.54 L358.92 1566.1 L362.73 1566.65 L366.54 1567.2 L370.34 1567.75 L374.15 1568.29 L377.96 1568.82 L381.76 1569.35 L385.57 1569.88 L389.38 1570.4 L393.19 1570.92 L396.99 1571.43 L400.8 1571.93 L404.61 1572.42 L408.41 1572.91 L412.22 1573.4 L416.03 1573.87 L419.84 1574.34 L423.64 1574.8 L427.45 1575.26 L431.26 1575.7 L435.06 1576.14 L438.87 1576.56 L442.68 1576.98 L446.49 1577.39 L450.29 1577.79 L454.1 1578.18 L457.91 1578.56 L461.71 1578.94 L465.52 1579.3 L469.33 1579.65 L473.14 1579.98 L476.94 1580.31 L480.75 1580.63 L484.56 1580.95 L488.36 1581.27 L492.17 1581.58 L495.98 1581.89 L499.79 1582.2 L503.59 1582.51 L507.4 1582.81 L511.21 1583.11 L515.01 1583.41 L518.82 1583.7 L522.63 1583.99 L526.44 1584.27 L530.24 1584.56 L534.05 1584.83 L537.86 1585.11 L541.66 1585.37 L545.47 1585.64 L549.28 1585.9 L553.09 1586.15 L556.89 1586.4 L560.7 1586.64 L564.51 1586.88 L568.31 1587.12 L572.12 1587.34 L575.93 1587.56 L579.74 1587.78 L583.54 1587.99 L587.35 1588.19 L591.16 1588.39 L594.96 1588.58 L598.77 1588.77 L602.58 1588.94 L606.39 1589.11 L610.19 1589.27 L614 1589.43 L617.81 1589.58 L621.61 1589.72 L625.42 1589.85 L629.23 1589.98" fill="none" stroke="#57dc78" stroke-width="5.2" stroke-linejoin="round" stroke-linecap="round" />
<rect x="169.86" y="1240.05" width="10.5" height="10.5" fill="none" stroke="#57dc78" stroke-width="1.8"/>
<rect x="169.11" y="1239.3" width="12" height="6" fill="#57dc78"/>
<rect x="174.28" y="1373.2" width="10.5" height="10.5" fill="none" stroke="#57dc78" stroke-width="1.8"/>
<rect x="173.53" y="1372.45" width="12" height="6" fill="#57dc78"/>
<rect x="181.89" y="1504.2" width="10.5" height="10.5" fill="none" stroke="#57dc78" stroke-width="1.8"/>
<rect x="181.14" y="1503.45" width="12" height="6" fill="#57dc78"/>
<rect x="196.97" y="1526.74" width="10.5" height="10.5" fill="none" stroke="#57dc78" stroke-width="1.8"/>
<rect x="196.22" y="1525.99" width="12" height="6" fill="#57dc78"/>
<rect x="242.5" y="1539.63" width="10.5" height="10.5" fill="none" stroke="#57dc78" stroke-width="1.8"/>
<rect x="241.75" y="1538.88" width="12" height="6" fill="#57dc78"/>
<rect x="319.41" y="1555.73" width="10.5" height="10.5" fill="none" stroke="#57dc78" stroke-width="1.8"/>
<rect x="318.66" y="1554.98" width="12" height="6" fill="#57dc78"/>
<rect x="471.69" y="1576.14" width="10.5" height="10.5" fill="none" stroke="#57dc78" stroke-width="1.8"/>
<rect x="470.94" y="1575.39" width="12" height="6" fill="#57dc78"/>
<rect x="623.98" y="1583.65" width="10.5" height="10.5" fill="none" stroke="#57dc78" stroke-width="1.8"/>
<rect x="623.23" y="1582.9" width="12" height="6" fill="#57dc78"/>
<path d="M172.37 1634 V1626.2 M248.51 1634 V1626.2 M324.66 1634 V1626.2 M400.8 1634 V1626.2 M476.94 1634 V1626.2 M553.09 1634 V1626.2 M629.23 1634 V1626.2 M210.44 1634 V1630 M286.59 1634 V1630 M362.73 1634 V1630 M438.87 1634 V1630 M515.01 1634 V1630 M591.16 1634 V1630 M134.3 1634 H142.1 M134.3 1526.62 H142.1 M134.3 1419.25 H142.1 M134.3 1311.88 H142.1 M134.3 1204.5 H142.1 M134.3 1580.31 H138.3 M134.3 1472.94 H138.3 M134.3 1365.56 H138.3 M134.3 1258.19 H138.3" stroke="#000" stroke-width="3.1" fill="none"/>
<path d="M134.3 1204.5 L134.3 1634 L667.3 1634 L667.3 1204.5" fill="none" stroke="#000" stroke-width="2.8" stroke-linejoin="miter" stroke-linecap="square"/>
<line x1="134.3" y1="1204.5" x2="667.3" y2="1204.5" stroke="#000" stroke-width="2.8" stroke-linecap="square"/>
<text x="172.37" y="1671.5" font-size="36" text-anchor="middle" fill="#000" >0</text>
<text x="248.51" y="1671.5" font-size="36" text-anchor="middle" fill="#000" >5</text>
<text x="324.66" y="1671.5" font-size="36" text-anchor="middle" fill="#000" >10</text>
<text x="400.8" y="1671.5" font-size="36" text-anchor="middle" fill="#000" >15</text>
<text x="476.94" y="1671.5" font-size="36" text-anchor="middle" fill="#000" >20</text>
<text x="553.09" y="1671.5" font-size="36" text-anchor="middle" fill="#000" >25</text>
<text x="629.23" y="1671.5" font-size="36" text-anchor="middle" fill="#000" >30</text>
<text x="124.3" y="1645.8" font-size="36" text-anchor="end" fill="#000" >150</text>
<text x="124.3" y="1538.42" font-size="36" text-anchor="end" fill="#000" >160</text>
<text x="124.3" y="1431.05" font-size="36" text-anchor="end" fill="#000" >170</text>
<text x="124.3" y="1323.67" font-size="36" text-anchor="end" fill="#000" >180</text>
<text x="124.3" y="1216.3" font-size="36" text-anchor="end" fill="#000" >190</text>
<text x="359.9" y="1713" font-size="36" text-anchor="middle"><tspan font-family="DejaVu Serif, serif" font-size="28" dy="-4.4">△</tspan><tspan dy="4.4">t (s)</tspan></text>
<text x="0" y="0" font-size="36.5" text-anchor="middle" transform="translate(56 1419) rotate(-90)">Light PPF Index (%)</text>
<rect x="471.3" y="1228.4" width="10.5" height="10.5" fill="none" stroke="#57dc78" stroke-width="1.8"/>
<rect x="470.6" y="1227.6" width="12" height="6" fill="#57dc78"/>
<text x="516.2" y="1244.5" font-size="28.4">PPF (A<tspan font-size="17" dy="6">2</tspan><tspan dy="-6">/A</tspan><tspan font-size="17" dy="6">1</tspan><tspan dy="-6">)</tspan></text>
<line x1="446.5" y1="1274.7" x2="506" y2="1274.7" stroke="#57dc78" stroke-width="5.2" stroke-linecap="round"/>
<text x="516.2" y="1284.8" font-size="28.2" text-anchor="start" fill="#000" >Fitting curve</text>
<rect x="312.1" y="1306.8" width="253" height="204.1" fill="url(#g_gi)"/>
<path d="M340.21 1488.63 L390.81 1489.56 L394.75 1488.63 L397.28 1466.37 L399.81 1444.1 L402.34 1421.84 L404.87 1399.57 L406.38 1411.26 L408.66 1422.02 L411.7 1429.29 L415.49 1433.13 L420.05 1434.83 L423.56 1405.14 L427.07 1375.45 L430.59 1345.76 L434.1 1316.08 L434.26 1317.49 L434.57 1320.21 L435 1323.62 L435.53 1327.38 L436.14 1331.24 L436.83 1335.04 L437.59 1338.65 L438.42 1342.01 L439.32 1345.08 L440.27 1347.85 L441.29 1350.34 L442.36 1352.58 L443.49 1354.6 L444.68 1356.42 L445.91 1358.09 L447.19 1359.64 L448.53 1361.08 L449.91 1362.45 L451.34 1363.76 L452.81 1365.03 L454.33 1366.26 L455.89 1367.47 L457.5 1368.66 L459.15 1369.83 L460.84 1370.99 L462.57 1372.13 L464.34 1373.26 L466.16 1374.38 L468.01 1375.48 L469.9 1376.56 L471.82 1377.63 L473.79 1378.69 L475.79 1379.72 L477.83 1380.74 L479.91 1381.74 L482.02 1382.72 L484.17 1383.67 L486.35 1384.61 L488.57 1385.53 L490.82 1386.42 L493.11 1387.29 L495.43 1388.14 L497.78 1388.96 L500.16 1389.76 L502.58 1390.54 L505.03 1391.3 L507.52 1392.03 L510.03 1392.74 L512.58 1393.43 L515.16 1394.1 L517.77 1394.74 L520.41 1395.36 L523.08 1395.96 L525.78 1396.54 L528.51 1397.09 L531.27 1397.63 L534.06 1398.14 L536.88 1398.64 L539.73 1399.12 L542.61 1399.57" fill="none" stroke="#57dc78" stroke-width="4" stroke-linejoin="round" stroke-linecap="round"/>
<path d="M340.21 1488.63 L390.81 1489.56 L394.75 1488.63 L397.28 1466.37 L399.81 1444.1 L402.34 1421.84 L404.87 1399.57 L406.38 1411.26 L408.66 1422.02 L411.7 1429.29 L415.49 1433.13 L420.05 1434.83 L423.56 1405.14 L427.07 1375.45 L430.59 1345.76 L434.1 1316.08 L434.26 1317.49 L434.57 1320.21 L435 1323.62 L435.53 1327.38 L436.14 1331.24 L436.83 1335.04 L437.59 1338.65 L438.42 1342.01 L439.32 1345.08 L440.27 1347.85 L441.29 1350.34 L442.36 1352.58 L443.49 1354.6 L444.68 1356.42 L445.91 1358.09 L447.19 1359.64 L448.53 1361.08 L449.91 1362.45 L451.34 1363.76 L452.81 1365.03 L454.33 1366.26 L455.89 1367.47 L457.5 1368.66 L459.15 1369.83 L460.84 1370.99 L462.57 1372.13 L464.34 1373.26 L466.16 1374.38 L468.01 1375.48 L469.9 1376.56 L471.82 1377.63 L473.79 1378.69 L475.79 1379.72 L477.83 1380.74 L479.91 1381.74 L482.02 1382.72 L484.17 1383.67 L486.35 1384.61 L488.57 1385.53 L490.82 1386.42 L493.11 1387.29 L495.43 1388.14 L497.78 1388.96 L500.16 1389.76 L502.58 1390.54 L505.03 1391.3 L507.52 1392.03 L510.03 1392.74 L512.58 1393.43 L515.16 1394.1 L517.77 1394.74 L520.41 1395.36 L523.08 1395.96 L525.78 1396.54 L528.51 1397.09 L531.27 1397.63 L534.06 1398.14 L536.88 1398.64 L539.73 1399.12 L542.61 1399.57" fill="none" stroke="#c8f0d0" stroke-width="1.2" stroke-dasharray="1.5 3" stroke-linejoin="round"/>
<path d="M340.21 1510.9 V1505.9 M396.43 1510.9 V1505.9 M452.66 1510.9 V1505.9 M508.88 1510.9 V1505.9 M565.1 1510.9 V1505.9 M312.1 1510.9 V1508.4 M368.32 1510.9 V1508.4 M424.54 1510.9 V1508.4 M480.77 1510.9 V1508.4 M536.99 1510.9 V1508.4 M312.1 1510.9 H317.1 M312.1 1473.79 H317.1 M312.1 1436.68 H317.1 M312.1 1399.57 H317.1 M312.1 1362.46 H317.1 M312.1 1325.35 H317.1 M312.1 1492.35 H314.6 M312.1 1455.24 H314.6 M312.1 1418.13 H314.6 M312.1 1381.02 H314.6 M312.1 1343.91 H314.6" stroke="#000" stroke-width="1.8"/>
<rect x="312.1" y="1306.8" width="253" height="204.1" fill="none" stroke="#000" stroke-width="1.9"/>
<text x="340.21" y="1529.4" font-size="22.5" text-anchor="middle" fill="#000" >0</text>
<text x="396.43" y="1529.4" font-size="22.5" text-anchor="middle" fill="#000" >1</text>
<text x="452.66" y="1529.4" font-size="22.5" text-anchor="middle" fill="#000" >2</text>
<text x="508.88" y="1529.4" font-size="22.5" text-anchor="middle" fill="#000" >3</text>
<text x="565.1" y="1529.4" font-size="22.5" text-anchor="middle" fill="#000" >4</text>
<text x="306.6" y="1518.4" font-size="22.5" text-anchor="end" fill="#000" >0.2</text>
<text x="306.6" y="1481.29" font-size="22.5" text-anchor="end" fill="#000" >0.4</text>
<text x="306.6" y="1444.18" font-size="22.5" text-anchor="end" fill="#000" >0.6</text>
<text x="306.6" y="1407.07" font-size="22.5" text-anchor="end" fill="#000" >0.8</text>
<text x="306.6" y="1369.96" font-size="22.5" text-anchor="end" fill="#000" >1.0</text>
<text x="306.6" y="1332.85" font-size="22.5" text-anchor="end" fill="#000" >1.2</text>
<text x="434" y="1550" font-size="22" text-anchor="middle" fill="#000" >Time (s)</text>
<text x="0" y="0" font-size="22.8" text-anchor="middle" transform="translate(270 1409.6) rotate(-90)">EPSC (μA)</text>
<line x1="314.7" y1="1317.6" x2="354" y2="1317.6" stroke="#57dc78" stroke-width="2.4"/>
<circle cx="334" cy="1317.6" r="2" fill="#fff" stroke="#57dc78" stroke-width="1"/>
<text x="358.3" y="1324.5" font-size="18" text-anchor="start" fill="#000" >Δt = 0.2 s</text>
<text x="0.2" y="1197" font-size="65" text-anchor="start" fill="#000" >g</text>
<rect x="821.5" y="1203.2" width="533.7" height="429.1" fill="url(#g_h)"/>
<path d="M842.03 1579.58 L844.49 1583.87 L848.18 1584.49 L861.32 1583.26 L862.73 1560.58 L863.67 1566.71 L865.08 1544.03 L866.02 1550.16 L867.43 1527.48 L868.37 1533.61 L869.78 1510.93 L870.72 1517.06 L872.13 1494.38 L873.07 1500.5 L874.48 1477.82 L875.42 1483.95 L876.83 1461.27 L877.77 1467.4 L879.18 1444.72 L880.12 1450.85 L881.54 1428.17 L882.48 1434.3 L883.89 1411.62 L884.83 1417.75 L886.24 1395.07 L887.18 1401.2 L888.59 1378.52 L889.53 1384.65 L890.94 1361.97 L891.88 1368.1 L893.29 1345.42 L894.23 1351.55 L895.64 1328.87 L896.58 1334.99 L897.99 1312.31 L898.93 1318.44 L900.34 1295.76 L901.28 1301.89 L902.69 1279.21 L903.63 1285.34 L905.04 1262.66 L905.98 1268.79 L907.39 1252.24 L908.33 1252.24" fill="none" stroke="#000" stroke-width="4.6" stroke-linejoin="round" stroke-linecap="round"/>
<path d="M1102.72 1474.15 L1104.07 1430.93 L1104.98 1437.06 L1106.33 1393.84 L1107.23 1399.97 L1108.59 1356.76 L1109.49 1362.89 L1110.85 1319.67 L1111.75 1325.8 L1113.11 1282.58 L1114.01 1288.71 L1115.36 1251.63 L1116.27 1251.63" fill="none" stroke="#000" stroke-width="4.2" stroke-linejoin="round" stroke-linecap="round"/>
<path d="M908.33 1252.24 L908.56 1255.04 L908.97 1259.84 L909.51 1265.47 L910.15 1271.41 L910.87 1277.3 L911.67 1282.96 L912.55 1288.25 L913.48 1293.13 L914.48 1297.59 L915.53 1301.66 L916.64 1305.37 L917.79 1308.79 L919 1311.95 L920.26 1314.92 L921.56 1317.72 L922.9 1320.42 L924.29 1323.02 L925.72 1325.57 L927.18 1328.09 L928.69 1330.57 L930.24 1333.05 L931.82 1335.52 L933.44 1338 L935.1 1340.48 L936.79 1342.96 L938.51 1345.45 L940.27 1347.95 L942.06 1350.45 L943.88 1352.96 L945.74 1355.47 L947.63 1357.98 L949.54 1360.5 L951.49 1363 L953.47 1365.51 L955.47 1368.01 L957.51 1370.5 L959.57 1372.99 L961.66 1375.46 L963.78 1377.92 L965.93 1380.37 L968.1 1382.81 L970.3 1385.23 L972.53 1387.64 L974.78 1390.02 L977.06 1392.39 L979.36 1394.74 L981.69 1397.07 L984.04 1399.38 L986.42 1401.67 L988.82 1403.93 L991.25 1406.17 L993.7 1408.38 L996.18 1410.58 L998.67 1412.74 L1001.19 1414.88 L1003.74 1417 L1006.31 1419.09 L1008.9 1421.15 L1011.51 1423.18 L1014.14 1425.19 L1016.8 1427.16 L1019.48 1429.11 L1022.18 1431.04 L1024.9 1432.93 L1027.64 1434.79 L1030.4 1436.63 L1033.19 1438.44 L1035.99 1440.22 L1038.82 1441.96 L1041.67 1443.68 L1044.54 1445.38 L1047.42 1447.04 L1050.33 1448.67 L1053.26 1450.28 L1056.21 1451.85 L1059.17 1453.4 L1062.16 1454.92 L1065.17 1456.41 L1068.19 1457.87 L1071.24 1459.31 L1074.3 1460.71 L1077.38 1462.09 L1080.49 1463.45 L1083.61 1464.77 L1086.75 1466.07 L1089.9 1467.34 L1093.08 1468.59 L1096.28 1469.81 L1099.49 1471 L1102.72 1472.17" fill="none" stroke="#000" stroke-width="3.7" stroke-linejoin="round" stroke-linecap="round"/>
<path d="M1116.27 1251.63 L1116.52 1253.51 L1116.99 1256.8 L1117.6 1260.8 L1118.32 1265.19 L1119.14 1269.76 L1120.04 1274.37 L1121.02 1278.91 L1122.08 1283.33 L1123.2 1287.59 L1124.39 1291.66 L1125.63 1295.55 L1126.94 1299.26 L1128.3 1302.8 L1129.72 1306.19 L1131.18 1309.46 L1132.7 1312.61 L1134.26 1315.68 L1135.87 1318.67 L1137.53 1321.61 L1139.23 1324.5 L1140.98 1327.36 L1142.76 1330.19 L1144.59 1333.01 L1146.46 1335.81 L1148.36 1338.61 L1150.31 1341.41 L1152.29 1344.2 L1154.31 1346.99 L1156.37 1349.78 L1158.46 1352.57 L1160.58 1355.35 L1162.75 1358.13 L1164.94 1360.91 L1167.17 1363.68 L1169.43 1366.45 L1171.73 1369.21 L1174.05 1371.96 L1176.41 1374.69 L1178.8 1377.42 L1181.22 1380.13 L1183.67 1382.83 L1186.16 1385.51 L1188.67 1388.17 L1191.21 1390.81 L1193.78 1393.43 L1196.37 1396.04 L1199 1398.62 L1201.65 1401.17 L1204.34 1403.71 L1207.05 1406.22 L1209.78 1408.7 L1212.55 1411.16 L1215.34 1413.59 L1218.15 1415.99 L1221 1418.37 L1223.87 1420.71 L1226.76 1423.03 L1229.68 1425.32 L1232.63 1427.58 L1235.6 1429.81 L1238.59 1432.01 L1241.62 1434.18 L1244.66 1436.31 L1247.73 1438.42 L1250.82 1440.49 L1253.94 1442.54 L1257.08 1444.55 L1260.24 1446.53 L1263.43 1448.48 L1266.64 1450.39 L1269.88 1452.28 L1273.13 1454.13 L1276.41 1455.95 L1279.71 1457.74 L1283.04 1459.5 L1286.39 1461.22 L1289.75 1462.92 L1293.14 1464.58 L1296.56 1466.22 L1299.99 1467.82 L1303.45 1469.39 L1306.92 1470.93 L1310.42 1472.44 L1313.94 1473.93 L1317.48 1475.38 L1321.04 1476.8 L1324.62 1478.2 L1328.23 1479.56 L1331.85 1480.9 L1335.49 1482.21" fill="none" stroke="#000" stroke-width="3.7" stroke-linejoin="round" stroke-linecap="round"/>
<path d="M842.03 1632.3 V1624.5 M965.19 1632.3 V1624.5 M1088.35 1632.3 V1624.5 M1211.51 1632.3 V1624.5 M1334.67 1632.3 V1624.5 M903.61 1632.3 V1628.3 M1026.77 1632.3 V1628.3 M1149.93 1632.3 V1628.3 M1273.09 1632.3 V1628.3 M821.5 1601.65 H829.3 M821.5 1479.05 H829.3 M821.5 1356.45 H829.3 M821.5 1233.85 H829.3 M821.5 1540.35 H825.5 M821.5 1417.75 H825.5 M821.5 1295.15 H825.5" stroke="#000" stroke-width="3.1" fill="none"/>
<path d="M821.5 1203.2 L821.5 1632.3 L1355.2 1632.3 L1355.2 1203.2" fill="none" stroke="#000" stroke-width="2.8" stroke-linejoin="miter" stroke-linecap="square"/>
<line x1="821.5" y1="1203.2" x2="1355.2" y2="1203.2" stroke="#000" stroke-width="2.8" stroke-linecap="square"/>
<text x="842.03" y="1669.8" font-size="36" text-anchor="middle" fill="#000" >0</text>
<text x="965.19" y="1669.8" font-size="36" text-anchor="middle" fill="#000" >30</text>
<text x="1088.35" y="1669.8" font-size="36" text-anchor="middle" fill="#000" >60</text>
<text x="1211.51" y="1669.8" font-size="36" text-anchor="middle" fill="#000" >90</text>
<text x="1334.67" y="1669.8" font-size="36" text-anchor="middle" fill="#000" >120</text>
<text x="811.5" y="1613.45" font-size="36" text-anchor="end" fill="#000" >0</text>
<text x="811.5" y="1490.85" font-size="36" text-anchor="end" fill="#000" >2</text>
<text x="811.5" y="1368.25" font-size="36" text-anchor="end" fill="#000" >4</text>
<text x="811.5" y="1245.65" font-size="36" text-anchor="end" fill="#000" >6</text>
<text x="1088" y="1711" font-size="37" text-anchor="middle" fill="#000" >Time (s)</text>
<text x="0" y="0" font-size="36.6" text-anchor="middle" transform="translate(780.5 1417.6) rotate(-90)">EPSC (μA)</text>
<text x="868.7" y="1247.7" font-size="28" text-anchor="start" fill="#000" >Learning</text>
<text x="1071" y="1247.7" font-size="28" text-anchor="start" fill="#000" >Relearning</text>
<text x="958" y="1376" font-size="28" text-anchor="start" fill="#000" >Forgetting</text>
<text x="877.4" y="1502" font-size="28" text-anchor="start" fill="#000" >20 pluse</text>
<text x="1107.2" y="1497.4" font-size="28" text-anchor="start" fill="#000" >6 pluse</text>
<text x="752.2" y="1197" font-size="65" text-anchor="start" fill="#000" >h</text>
<rect x="1513.5" y="1205.2" width="533.8" height="429.3" fill="url(#g_i)"/>
<path d="M1543.16 1605.71 L1555.26 1605.71 L1562.49 1567.33 L1568.42 1571.62 L1576.61 1511.77 L1583.84 1523.13 L1590.37 1449.65 L1597.96 1469.09 L1605.19 1387.53 L1605.27 1388.09 L1605.43 1389.19 L1605.65 1390.63 L1605.92 1392.29 L1606.23 1394.09 L1606.58 1395.98 L1606.96 1397.92 L1607.39 1399.88 L1607.84 1401.83 L1608.33 1403.77 L1608.84 1405.69 L1609.39 1407.6 L1609.96 1409.48 L1610.56 1411.36 L1611.18 1413.23 L1611.84 1415.1 L1612.51 1416.97 L1613.21 1418.86 L1613.94 1420.75 L1614.69 1422.66 L1615.46 1424.59 L1616.25 1426.54 L1617.06 1428.51 L1617.9 1430.5 L1618.76 1432.51 L1619.64 1434.54 L1620.53 1436.58 L1621.45 1438.65 L1622.39 1440.73 L1623.35 1442.82 L1624.33 1444.93 L1625.33 1447.04 L1626.34 1449.17 L1627.38 1451.31 L1628.43 1453.45 L1629.5 1455.59 L1630.59 1457.74 L1631.7 1459.89 L1632.82 1462.04 L1633.96 1464.19 L1635.12 1466.34 L1636.3 1468.48 L1637.49 1470.62 L1638.7 1472.75 L1639.93 1474.88 L1641.17 1476.99 L1642.43 1479.1 L1643.71 1481.2 L1645 1483.28 L1646.31 1485.35 L1647.63 1487.41 L1648.97 1489.45 L1650.33 1491.48 L1651.7 1493.5 L1653.08 1495.49 L1654.48 1497.47 L1655.9 1499.43 L1657.33 1501.38 L1658.78 1503.3 L1660.24 1505.2" fill="none" stroke="#484848" stroke-width="5.8" stroke-linejoin="round" stroke-linecap="round" />
<path d="M1661.18 1605.71 L1674.35 1605.71 L1680.88 1571.62 L1680.96 1571.74 L1681.12 1571.97 L1681.34 1572.26 L1681.62 1572.59 L1681.93 1572.93 L1682.29 1573.29 L1682.69 1573.64 L1683.12 1573.97 L1683.58 1574.29 L1684.08 1574.6 L1684.61 1574.88 L1685.17 1575.15 L1685.75 1575.41 L1686.37 1575.65 L1687.01 1575.88 L1687.67 1576.1 L1688.37 1576.32 L1689.08 1576.53 L1689.83 1576.73 L1690.59 1576.94 L1691.38 1577.15 L1692.19 1577.35 L1693.03 1577.56 L1693.88 1577.77 L1694.76 1577.98 L1695.66 1578.19 L1696.58 1578.41 L1697.52 1578.62 L1698.48 1578.84 L1699.46 1579.06 L1700.46 1579.28 L1701.48 1579.51 L1702.53 1579.74 L1703.58 1579.96 L1704.66 1580.19 L1705.76 1580.42 L1706.87 1580.65 L1708.01 1580.89 L1709.16 1581.12 L1710.33 1581.35 L1711.51 1581.59 L1712.72 1581.82 L1713.94 1582.06 L1715.18 1582.3 L1716.44 1582.53 L1717.71 1582.77 L1719 1583 L1720.3 1583.24 L1721.63 1583.47 L1722.97 1583.71 L1724.32 1583.94 L1725.69 1584.18 L1727.08 1584.41 L1728.48 1584.64 L1729.9 1584.87 L1731.33 1585.1 L1732.78 1585.33 L1734.25 1585.56 L1735.73 1585.79 L1737.22 1586.01" fill="none" stroke="#ee3a40" stroke-width="5.8" stroke-linejoin="round" stroke-linecap="round" />
<path d="M1739.95 1605.71 L1753 1605.71 L1759.17 1568.34 L1765.22 1573.89 L1784.79 1439.8 L1792.02 1461.01 L1798.91 1383.99 L1806.14 1413.54 L1813.61 1330.2 L1813.7 1330.92 L1813.87 1332.32 L1814.09 1334.14 L1814.38 1336.23 L1814.7 1338.5 L1815.07 1340.87 L1815.48 1343.29 L1815.92 1345.73 L1816.4 1348.16 L1816.91 1350.57 L1817.46 1352.96 L1818.03 1355.32 L1818.63 1357.67 L1819.27 1360 L1819.93 1362.33 L1820.61 1364.67 L1821.33 1367.01 L1822.06 1369.36 L1822.83 1371.74 L1823.62 1374.13 L1824.43 1376.55 L1825.26 1379 L1826.12 1381.47 L1827 1383.97 L1827.91 1386.5 L1828.83 1389.04 L1829.78 1391.61 L1830.75 1394.21 L1831.74 1396.81 L1832.75 1399.44 L1833.78 1402.08 L1834.83 1404.73 L1835.9 1407.39 L1836.99 1410.06 L1838.1 1412.74 L1839.23 1415.42 L1840.38 1418.1 L1841.55 1420.78 L1842.73 1423.46 L1843.93 1426.13 L1845.16 1428.8 L1846.4 1431.46 L1847.65 1434.12 L1848.93 1436.76 L1850.22 1439.39 L1851.53 1442.01 L1852.86 1444.61 L1854.2 1447.2 L1855.57 1449.77 L1856.94 1452.33 L1858.34 1454.86 L1859.75 1457.38 L1861.18 1459.87 L1862.62 1462.34 L1864.08 1464.79 L1865.56 1467.22 L1867.05 1469.62 L1868.56 1472 L1870.08 1474.35 L1871.62 1476.67" fill="none" stroke="#3f6ff0" stroke-width="5.8" stroke-linejoin="round" stroke-linecap="round" />
<path d="M1874.94 1605.71 L1888.11 1605.71 L1894.04 1565.81 L1901.28 1570.61 L1919.31 1421.87 L1926.42 1441.32 L1945.4 1279.44 L1953 1317.07 L1960.82 1230.45 L1960.91 1231.37 L1961.07 1233.17 L1961.29 1235.51 L1961.57 1238.2 L1961.89 1241.12 L1962.25 1244.18 L1962.65 1247.31 L1963.08 1250.47 L1963.55 1253.62 L1964.05 1256.74 L1964.58 1259.84 L1965.14 1262.9 L1965.73 1265.94 L1966.35 1268.96 L1966.99 1271.98 L1967.67 1274.99 L1968.36 1278.02 L1969.08 1281.06 L1969.83 1284.13 L1970.6 1287.22 L1971.4 1290.34 L1972.21 1293.5 L1973.05 1296.69 L1973.91 1299.91 L1974.8 1303.16 L1975.7 1306.45 L1976.63 1309.76 L1977.57 1313.11 L1978.54 1316.47 L1979.53 1319.86 L1980.54 1323.27 L1981.56 1326.7 L1982.61 1330.13 L1983.68 1333.58 L1984.76 1337.04 L1985.86 1340.51 L1986.99 1343.97 L1988.13 1347.44 L1989.29 1350.91 L1990.46 1354.37 L1991.66 1357.83 L1992.87 1361.28 L1994.1 1364.72 L1995.34 1368.15 L1996.61 1371.57 L1997.89 1374.96 L1999.19 1378.35 L2000.5 1381.71 L2001.83 1385.05 L2003.18 1388.37 L2004.54 1391.67 L2005.92 1394.95 L2007.32 1398.19 L2008.73 1401.41 L2010.16 1404.6 L2011.6 1407.77 L2013.06 1410.9 L2014.53 1414 L2016.02 1417.07 L2017.53 1420.1" fill="none" stroke="#4cbb6a" stroke-width="5.8" stroke-linejoin="round" stroke-linecap="round" />
<path d="M1543.16 1634.5 V1626.7 M1661.78 1634.5 V1626.7 M1780.4 1634.5 V1626.7 M1899.02 1634.5 V1626.7 M2017.64 1634.5 V1626.7 M1602.47 1634.5 V1630.5 M1721.09 1634.5 V1630.5 M1839.71 1634.5 V1630.5 M1958.33 1634.5 V1630.5 M1513.5 1609.25 H1521.3 M1513.5 1533.49 H1521.3 M1513.5 1457.73 H1521.3 M1513.5 1381.97 H1521.3 M1513.5 1306.21 H1521.3 M1513.5 1230.45 H1521.3 M1513.5 1571.37 H1517.5 M1513.5 1495.61 H1517.5 M1513.5 1419.85 H1517.5 M1513.5 1344.09 H1517.5 M1513.5 1268.33 H1517.5" stroke="#000" stroke-width="3.1" fill="none"/>
<path d="M1513.5 1205.2 L1513.5 1634.5 L2047.3 1634.5 L2047.3 1205.2" fill="none" stroke="#000" stroke-width="2.8" stroke-linejoin="miter" stroke-linecap="square"/>
<line x1="1513.5" y1="1205.2" x2="2047.3" y2="1205.2" stroke="#000" stroke-width="2.8" stroke-linecap="square"/>
<text x="1543.16" y="1672" font-size="36" text-anchor="middle" fill="#000" >0</text>
<text x="1661.78" y="1672" font-size="36" text-anchor="middle" fill="#000" >10</text>
<text x="1780.4" y="1672" font-size="36" text-anchor="middle" fill="#000" >20</text>
<text x="1899.02" y="1672" font-size="36" text-anchor="middle" fill="#000" >30</text>
<text x="2017.64" y="1672" font-size="36" text-anchor="middle" fill="#000" >40</text>
<text x="1503.5" y="1621.05" font-size="36" text-anchor="end" fill="#000" >0</text>
<text x="1503.5" y="1545.29" font-size="36" text-anchor="end" fill="#000" >3</text>
<text x="1503.5" y="1469.53" font-size="36" text-anchor="end" fill="#000" >6</text>
<text x="1503.5" y="1393.77" font-size="36" text-anchor="end" fill="#000" >9</text>
<text x="1503.5" y="1318.01" font-size="36" text-anchor="end" fill="#000" >12</text>
<text x="1503.5" y="1242.25" font-size="36" text-anchor="end" fill="#000" >15</text>
<text x="1762" y="1705" font-size="37" text-anchor="middle" fill="#000" >Time (s)</text>
<text x="0" y="0" font-size="36.6" text-anchor="middle" transform="translate(1461.5 1417.6) rotate(-90)">EPSC (μA)</text>
<line x1="1526" y1="1223.8" x2="1587.5" y2="1223.8" stroke="#484848" stroke-width="5.6" stroke-linecap="round"/>
<text x="1596.3" y="1233.4" font-size="27.8" text-anchor="start" fill="#000" >H (····)</text>
<line x1="1526" y1="1258.9" x2="1587.5" y2="1258.9" stroke="#ee3a40" stroke-width="5.6" stroke-linecap="round"/>
<text x="1596.3" y="1268.5" font-size="27.8" text-anchor="start" fill="#000" >E (·)</text>
<line x1="1526" y1="1294" x2="1587.5" y2="1294" stroke="#3f6ff0" stroke-width="5.6" stroke-linecap="round"/>
<text x="1596.3" y="1303.6" font-size="27.8" text-anchor="start" fill="#000" >L (·-··)</text>
<line x1="1526" y1="1329.1" x2="1587.5" y2="1329.1" stroke="#4cbb6a" stroke-width="5.6" stroke-linecap="round"/>
<text x="1596.3" y="1338.7" font-size="27.8" text-anchor="start" fill="#000" >P (·--·)</text>
<text x="1469.8" y="1197" font-size="67" text-anchor="start" fill="#000" >i</text>
<path d="M415.8 39.1 L492.7 46.6 L527 196 L333 178 Z" fill="url(#beam)" />
<text x="0" y="0" font-size="29.5" transform="translate(365.2 24.6) rotate(5.6)">Optical stimulus</text>
<path d="M102 411 C180 390 330 355 440 350 C520 347 600 375 645 404 C650 408 646 414 640 417 C605 462 568 504 528 521 C480 480 330 424 209.5 414.2 C160 412 120 412 104 412 Z" fill="url(#paper)"/>
<path d="M102 411 C180 390 330 355 440 350 C500 348 530 352 545 358 C450 378 300 400 150 412 C125 412 110 412 104 412 Z" fill="url(#paperfar)" opacity="0.95"/>
<path d="M104 412 C120 412 160 412 209.5 414.2 C330 424 480 480 528 521 L531 531 C480 500 330 445 209.5 429.1 C160 428 120 428 106 427.6 C100 425 98 414 104 412 Z" fill="#d05a8b"/>
<path d="M104 413 C120 413 160 413 209.5 415.5 C330 425.5 480 481 528 522" fill="none" stroke="#e57aa5" stroke-width="2.5"/>
<path d="M528 521 C568 504 605 462 640 417 C646 414 650 410 648.5 408 L651 414 C616 466 576 514 531 531 Z" fill="#d96d9f"/>
<path d="M330 420 L380 400 L430 408 L390 432 Z" fill="#b08aa8" opacity="0.55"/>
<path d="M390 432 L430 410 L520 426 L480 450 Z" fill="#a04870" opacity="0.45"/>
<path d="M450 430 L520 408 L560 414 L510 440 Z" fill="#b0507a" opacity="0.35"/>
<path d="M190 403 L260 392 L300 400 L240 412 Z" fill="#a05078" opacity="0.35"/>
<path d="M342 326 C370 323 400 322 409 322.5 C460 326 540 338 572 345 C577 347 576 353 571 355 L561 358 C520 350 460 339 403 331 C380 329 350 328 342 326 Z" fill="#5c6670"/>
<path d="M403 331 C460 339 520 350 561 358 L571 355 C575 354 576 351 575 349 C570 352 566 353 561 354 C520 346 460 335 405 328 Z" fill="#2f3236"/>
<path d="M171 364.5 C172 361 176 360.5 180 360.4 L358.9 333.5 C372 332.5 382 333.5 388.8 335 C391 336 391 337.5 390.3 338 L263.3 369.5 L177 367.5 C173 367 171 366 171 364.5 Z" fill="#596068"/>
<path d="M171 364.5 C171 366 173 367 177 367.5 L263.3 369.5 L390.3 338 C391 339 390.5 341.5 388 342.5 L263.3 375 L178 373 C173 372.5 170.5 368 171 364.5 Z" fill="#3a3d40"/>
<path d="M331.8 382.2 L455.4 341.7 L553.7 366.3 L451.1 419.8 Z" fill="#5e6b76" />
<path d="M331.8 382.2 L390 367 L485 387 L446 407 Z" fill="#58595b" />
<path d="M331.8 382.2 L451.1 419.8 L553.7 366.3 L554 371 L452 425 L332 387 Z" fill="#3c3f42"/>
<path d="M222.5 304 C260 296 320 286 352 284 C400 282 460 284 494 293 C500 295 503 299 500 302 C470 312 420 324 390.5 331 C340 318 280 311 226 310 C221 309 220 306 222.5 304 Z" fill="url(#zno)"/>
<path d="M332 305 L400 297 L483 301 L430 322 L390 326 Z" fill="#b9bebe" opacity="0.8"/>
<path d="M226 309 C280 311 340 318 390.5 331 C420 324 470 312 501 302 L501 306 C470 316 420 328 390 336 C340 323 280 315 227 314 Z" fill="#f2ecf2"/>
<path d="M199 250 C199 245 200.5 243 203.5 242.4 C270 238 340 234 403.7 232 C460 232 520 236 556 240.9 C565 243 570 247 571 252.9 C571 255 570 257 568 258.8 L433.6 275.3 C360 268 280 258 203.5 251.4 Z" fill="url(#peo)"/>
<path d="M370.8 240 L545 239.5 L560 252 L405 258.5 Z" fill="#c6cecb" opacity="0.9"/>
<path d="M199 250 L203.5 251.4 C280 258 360 268 433.6 275.3 L568 258.8 C568 261 567 263.5 565 264.8 C520 272 470 279 433.6 284.2 C360 276 280 266 209.5 260.3 C203 259.5 199 256 199 250 Z" fill="#bcc5c4"/>
<path d="M204 252 C280 258.5 360 268.5 433.6 276 L567 259.5" fill="none" stroke="#7d8886" stroke-width="1"/>
<path d="M210 260 C280 266 360 276 433.6 284 L565 264.5" fill="none" stroke="#6e7a78" stroke-width="1"/>
<text x="188.6" y="207" font-size="25" text-anchor="start" fill="#000" >PEO/LiClO<tspan dy="4">4</tspan></text>
<line x1="266.5" y1="211" x2="284.5" y2="240" stroke="#000" stroke-width="1.6" marker-end="url(#arr)"/>
<text x="155.5" y="348.6" font-size="25" text-anchor="start" fill="#000" >ZnO</text>
<line x1="189.4" y1="328.7" x2="226.8" y2="308" stroke="#000" stroke-width="1.6" marker-end="url(#arr)"/>
<text x="0" y="0" font-size="25" transform="translate(231.5 409) rotate(13)">carbon electrode</text>
<line x1="287" y1="413.5" x2="278.2" y2="366.5" stroke="#000" stroke-width="1.6" marker-end="url(#arr)"/>
<line x1="292" y1="413.5" x2="335" y2="389.6" stroke="#000" stroke-width="1.6" marker-end="url(#arr)"/>
<text x="0" y="0" font-size="25.5" transform="translate(569 318) rotate(37)">paper substrate</text>
<line x1="630.8" y1="367.2" x2="596.4" y2="410.5" stroke="#000" stroke-width="1.6" marker-end="url(#arr)"/>
<text x="2.5" y="48.2" font-size="65" text-anchor="start" fill="#000" >a</text></svg></body></html>
